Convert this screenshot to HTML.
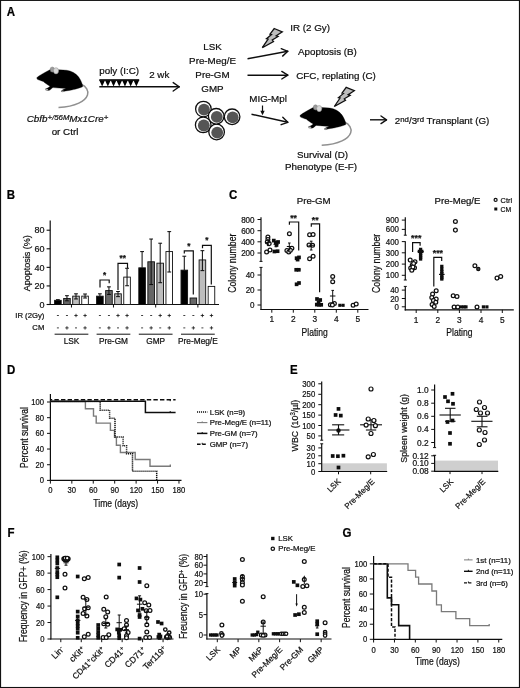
<!DOCTYPE html>
<html><head><meta charset="utf-8"><title>Figure</title>
<style>
html,body{margin:0;padding:0;background:#fff;}
body{width:520px;height:688px;overflow:hidden;}
svg{display:block;font-family:"Liberation Sans",sans-serif;}
</style></head><body>
<svg width="520" height="688" viewBox="0 0 520 688">
<defs><filter id="soft" x="0" y="0" width="520" height="688" filterUnits="userSpaceOnUse"><feGaussianBlur stdDeviation="0.3"/></filter></defs>
<rect x="0" y="0" width="520" height="688" fill="#fff"/>
<g filter="url(#soft)">
<rect x="0" y="0" width="520" height="688" fill="#fff"/>
<text transform="translate(6.80,16.20) scale(0.95,1)" font-size="12.1" text-anchor="start" font-weight="bold" font-style="normal" fill="#000" stroke="#000" stroke-width="0.22" >A</text>
<g transform="translate(0,0)">
<path d="M81.5,84.5 C86,86 89,91 87.5,95 C85.5,101 76,106.5 58.5,107.5" stroke="#909090" stroke-width="1.5" fill="none" />
<path d="M36.7,77.8 C39,75.5 44,73 49,70.2 C51,69 53,69 56,69.8 C60,70 66,69.6 70,71 C75,72.5 78.5,76 80.5,80 C82,83 83,86 82.6,86.8 C80,88 74,89.6 70.5,90.2 C69,90.6 66,90.8 64.5,91.2 C63,92 61,92 61.3,91 C62,90 64,89.3 66,88.6 C62,88.4 57,88 53,87.6 C52,88 51,89.5 49.5,90.3 C47.5,90.8 45,90 45.3,89 C46.5,88.4 48.5,88 50,86.2 C47,84.5 45,83 43.3,81.5 C41,80.8 38.5,80 37.3,79.3 Z" stroke="#000" stroke-width="0.3" fill="#000" />
<ellipse cx="52.3" cy="69.6" rx="2.2" ry="2.6" fill="#9a9a9a" stroke="#666" stroke-width="0.4"/>
<ellipse cx="56" cy="70.8" rx="2.6" ry="3.1" fill="#d8d8d8" stroke="#888" stroke-width="0.5"/>
<ellipse cx="46.6" cy="89.6" rx="1.6" ry="0.9" fill="#aaa"/>
<ellipse cx="62.6" cy="91.3" rx="1.6" ry="0.8" fill="#999"/>
</g>
<text transform="translate(67.50,122.30)" font-size="9.8" text-anchor="middle" font-weight="normal" font-style="italic" fill="#111" stroke="#111" stroke-width="0.22" >Cbfb<tspan font-size="7.8" dy="-2.2">+/56M</tspan><tspan dy="2.2">Mx1Cre</tspan><tspan font-size="7.8" dy="-2.2">+</tspan></text>
<text transform="translate(65.00,134.50)" font-size="9.8" text-anchor="middle" font-weight="normal" font-style="normal" fill="#111" stroke="#111" stroke-width="0.22" >or Ctrl</text>
<text transform="translate(99.30,74.30)" font-size="9.8" text-anchor="start" font-weight="normal" font-style="normal" fill="#111" stroke="#111" stroke-width="0.22" >poly (I:C)</text>
<rect x="99.30" y="79.20" width="39.90" height="1.60" fill="#000" stroke="none" stroke-width="0"/>
<polygon points="99.30,80.2 105.00,80.2 102.15,86.6" fill="#000"/>
<polygon points="105.00,80.2 110.70,80.2 107.85,86.6" fill="#000"/>
<polygon points="110.70,80.2 116.40,80.2 113.55,86.6" fill="#000"/>
<polygon points="116.40,80.2 122.10,80.2 119.25,86.6" fill="#000"/>
<polygon points="122.10,80.2 127.80,80.2 124.95,86.6" fill="#000"/>
<polygon points="127.80,80.2 133.50,80.2 130.65,86.6" fill="#000"/>
<polygon points="133.50,80.2 139.20,80.2 136.35,86.6" fill="#000"/>
<line x1="99.30" y1="86.80" x2="179.20" y2="86.80" stroke="#111" stroke-width="1.4" />
<line x1="179.20" y1="86.80" x2="173.20" y2="82.60" stroke="#111" stroke-width="1.4" stroke-linecap="round"/>
<line x1="179.20" y1="86.80" x2="173.20" y2="91.00" stroke="#111" stroke-width="1.4" stroke-linecap="round"/>
<text transform="translate(149.20,78.20)" font-size="9.8" text-anchor="start" font-weight="normal" font-style="normal" fill="#111" stroke="#111" stroke-width="0.22" >2 wk</text>
<text transform="translate(212.50,50.40)" font-size="9.8" text-anchor="middle" font-weight="normal" font-style="normal" fill="#111" stroke="#111" stroke-width="0.22" >LSK</text>
<text transform="translate(212.50,64.30)" font-size="9.8" text-anchor="middle" font-weight="normal" font-style="normal" fill="#111" stroke="#111" stroke-width="0.22" >Pre-Meg/E</text>
<text transform="translate(212.50,78.20)" font-size="9.8" text-anchor="middle" font-weight="normal" font-style="normal" fill="#111" stroke="#111" stroke-width="0.22" >Pre-GM</text>
<text transform="translate(212.50,92.00)" font-size="9.8" text-anchor="middle" font-weight="normal" font-style="normal" fill="#111" stroke="#111" stroke-width="0.22" >GMP</text>
<circle cx="203.40" cy="109.10" r="7.8" fill="#fff" stroke="#111" stroke-width="1.3"/>
<circle cx="204.00" cy="109.70" r="5.9" fill="#555" stroke="none" stroke-width="0"/>
<circle cx="203.20" cy="124.90" r="7.8" fill="#fff" stroke="#111" stroke-width="1.3"/>
<circle cx="203.80" cy="125.50" r="5.9" fill="#555" stroke="none" stroke-width="0"/>
<circle cx="232.10" cy="116.80" r="7.8" fill="#fff" stroke="#111" stroke-width="1.3"/>
<circle cx="232.70" cy="117.40" r="5.9" fill="#555" stroke="none" stroke-width="0"/>
<circle cx="216.60" cy="132.00" r="7.8" fill="#fff" stroke="#111" stroke-width="1.3"/>
<circle cx="217.20" cy="132.60" r="5.9" fill="#555" stroke="none" stroke-width="0"/>
<circle cx="216.20" cy="116.30" r="7.8" fill="#fff" stroke="#111" stroke-width="1.3"/>
<circle cx="216.80" cy="116.90" r="5.9" fill="#555" stroke="none" stroke-width="0"/>
<line x1="247.50" y1="58.80" x2="287.80" y2="51.30" stroke="#111" stroke-width="1.4" />
<line x1="287.80" y1="51.30" x2="281.21" y2="48.66" stroke="#111" stroke-width="1.4" stroke-linecap="round"/>
<line x1="287.80" y1="51.30" x2="282.60" y2="56.13" stroke="#111" stroke-width="1.4" stroke-linecap="round"/>
<line x1="247.50" y1="75.20" x2="287.80" y2="75.20" stroke="#111" stroke-width="1.4" />
<line x1="287.80" y1="75.20" x2="281.80" y2="71.40" stroke="#111" stroke-width="1.4" stroke-linecap="round"/>
<line x1="287.80" y1="75.20" x2="281.80" y2="79.00" stroke="#111" stroke-width="1.4" stroke-linecap="round"/>
<text transform="translate(249.30,101.80)" font-size="9.8" text-anchor="start" font-weight="normal" font-style="normal" fill="#111" stroke="#111" stroke-width="0.22" >MIG-Mpl</text>
<line x1="262.50" y1="105.50" x2="262.50" y2="113.00" stroke="#111" stroke-width="1.2" />
<polygon points="260.3,110.8 264.7,110.8 262.5,115.3" fill="#111"/>
<line x1="251.50" y1="114.20" x2="287.80" y2="122.30" stroke="#111" stroke-width="1.4" />
<line x1="287.80" y1="122.30" x2="282.77" y2="117.28" stroke="#111" stroke-width="1.4" stroke-linecap="round"/>
<line x1="287.80" y1="122.30" x2="281.12" y2="124.70" stroke="#111" stroke-width="1.4" stroke-linecap="round"/>
<g transform="translate(0,0)">
<path d="M274.2,28.5 L282.3,31.9 L276.2,35.8 L278.1,36.5 L272.3,40 L273.5,41.5 L262.3,47.7 L268.1,39.2 L266.5,38.8 L271.5,34.6 L270,34.2 Z" stroke="#111" stroke-width="1.3" fill="#bdbdbd" stroke-linejoin="miter"/>
</g>
<text transform="translate(290.20,31.40)" font-size="9.8" text-anchor="start" font-weight="normal" font-style="normal" fill="#111" stroke="#111" stroke-width="0.22" >IR (2 Gy)</text>
<text transform="translate(298.00,55.30)" font-size="9.8" text-anchor="start" font-weight="normal" font-style="normal" fill="#111" stroke="#111" stroke-width="0.22" >Apoptosis (B)</text>
<text transform="translate(296.30,79.10)" font-size="9.8" text-anchor="start" font-weight="normal" font-style="normal" fill="#111" stroke="#111" stroke-width="0.22" >CFC, replating (C)</text>
<g transform="translate(72,58.8)">
<path d="M274.2,28.5 L282.3,31.9 L276.2,35.8 L278.1,36.5 L272.3,40 L273.5,41.5 L262.3,47.7 L268.1,39.2 L266.5,38.8 L271.5,34.6 L270,34.2 Z" stroke="#111" stroke-width="1.3" fill="#bdbdbd" stroke-linejoin="miter"/>
</g>
<g transform="translate(263.2,37.8)">
<path d="M81.5,84.5 C86,86 89,91 87.5,95 C85.5,101 76,106.5 58.5,107.5" stroke="#909090" stroke-width="1.5" fill="none" />
<path d="M36.7,77.8 C39,75.5 44,73 49,70.2 C51,69 53,69 56,69.8 C60,70 66,69.6 70,71 C75,72.5 78.5,76 80.5,80 C82,83 83,86 82.6,86.8 C80,88 74,89.6 70.5,90.2 C69,90.6 66,90.8 64.5,91.2 C63,92 61,92 61.3,91 C62,90 64,89.3 66,88.6 C62,88.4 57,88 53,87.6 C52,88 51,89.5 49.5,90.3 C47.5,90.8 45,90 45.3,89 C46.5,88.4 48.5,88 50,86.2 C47,84.5 45,83 43.3,81.5 C41,80.8 38.5,80 37.3,79.3 Z" stroke="#000" stroke-width="0.3" fill="#000" />
<ellipse cx="52.3" cy="69.6" rx="2.2" ry="2.6" fill="#9a9a9a" stroke="#666" stroke-width="0.4"/>
<ellipse cx="56" cy="70.8" rx="2.6" ry="3.1" fill="#d8d8d8" stroke="#888" stroke-width="0.5"/>
<ellipse cx="46.6" cy="89.6" rx="1.6" ry="0.9" fill="#aaa"/>
<ellipse cx="62.6" cy="91.3" rx="1.6" ry="0.8" fill="#999"/>
</g>
<line x1="370.00" y1="119.80" x2="386.50" y2="119.80" stroke="#111" stroke-width="1.4" />
<line x1="386.50" y1="119.80" x2="381.00" y2="116.00" stroke="#111" stroke-width="1.4" stroke-linecap="round"/>
<line x1="386.50" y1="119.80" x2="381.00" y2="123.60" stroke="#111" stroke-width="1.4" stroke-linecap="round"/>
<text transform="translate(394.80,124.00)" font-size="9.8" text-anchor="start" font-weight="normal" font-style="normal" fill="#111" stroke="#111" stroke-width="0.22" >2<tspan font-size="7.8" dy="-2">nd</tspan><tspan dy="2">/3</tspan><tspan font-size="7.8" dy="-2">rd</tspan><tspan dy="2"> Transplant (G)</tspan></text>
<text transform="translate(322.50,157.60)" font-size="9.8" text-anchor="middle" font-weight="normal" font-style="normal" fill="#111" stroke="#111" stroke-width="0.22" >Survival (D)</text>
<text transform="translate(321.00,170.20)" font-size="9.8" text-anchor="middle" font-weight="normal" font-style="normal" fill="#111" stroke="#111" stroke-width="0.22" >Phenotype (E-F)</text>
<text transform="translate(6.80,199.20) scale(0.95,1)" font-size="12.1" text-anchor="start" font-weight="bold" font-style="normal" fill="#000" stroke="#000" stroke-width="0.22" >B</text>
<line x1="50.20" y1="220.50" x2="50.20" y2="305.10" stroke="#111" stroke-width="1.2" />
<line x1="49.60" y1="304.50" x2="219.00" y2="304.50" stroke="#111" stroke-width="1.2" />
<line x1="46.60" y1="304.50" x2="50.20" y2="304.50" stroke="#111" stroke-width="1.1" />
<text transform="translate(44.60,307.70)" font-size="9" text-anchor="end" font-weight="normal" font-style="normal" fill="#111" stroke="#111" stroke-width="0.22" >0</text>
<line x1="46.60" y1="285.93" x2="50.20" y2="285.93" stroke="#111" stroke-width="1.1" />
<text transform="translate(44.60,289.13)" font-size="9" text-anchor="end" font-weight="normal" font-style="normal" fill="#111" stroke="#111" stroke-width="0.22" >20</text>
<line x1="46.60" y1="267.36" x2="50.20" y2="267.36" stroke="#111" stroke-width="1.1" />
<text transform="translate(44.60,270.56)" font-size="9" text-anchor="end" font-weight="normal" font-style="normal" fill="#111" stroke="#111" stroke-width="0.22" >40</text>
<line x1="46.60" y1="248.79" x2="50.20" y2="248.79" stroke="#111" stroke-width="1.1" />
<text transform="translate(44.60,251.99)" font-size="9" text-anchor="end" font-weight="normal" font-style="normal" fill="#111" stroke="#111" stroke-width="0.22" >60</text>
<line x1="46.60" y1="230.22" x2="50.20" y2="230.22" stroke="#111" stroke-width="1.1" />
<text transform="translate(44.60,233.42)" font-size="9" text-anchor="end" font-weight="normal" font-style="normal" fill="#111" stroke="#111" stroke-width="0.22" >80</text>
<text transform="translate(30.00,263.30) rotate(-90) scale(0.92,1)" font-size="9.8" text-anchor="middle" font-weight="normal" font-style="normal" fill="#111" stroke="#111" stroke-width="0.22" >Apoptosis (%)</text>
<rect x="54.60" y="300.32" width="6.60" height="4.18" fill="#000" stroke="#111" stroke-width="0.9"/>
<line x1="57.90" y1="300.32" x2="57.90" y2="299.67" stroke="#111" stroke-width="1.05" />
<line x1="56.00" y1="299.67" x2="59.80" y2="299.67" stroke="#111" stroke-width="1.05" />
<rect x="63.65" y="298.46" width="6.60" height="6.04" fill="#666" stroke="#111" stroke-width="0.9"/>
<line x1="66.95" y1="300.79" x2="66.95" y2="295.68" stroke="#111" stroke-width="1.05" />
<line x1="65.05" y1="295.68" x2="68.85" y2="295.68" stroke="#111" stroke-width="1.05" />
<line x1="65.05" y1="300.79" x2="68.85" y2="300.79" stroke="#111" stroke-width="1.05" />
<rect x="72.70" y="296.14" width="6.60" height="8.36" fill="#bdbdbd" stroke="#111" stroke-width="0.9"/>
<line x1="76.00" y1="298.93" x2="76.00" y2="293.82" stroke="#111" stroke-width="1.05" />
<line x1="74.10" y1="293.82" x2="77.90" y2="293.82" stroke="#111" stroke-width="1.05" />
<line x1="74.10" y1="298.93" x2="77.90" y2="298.93" stroke="#111" stroke-width="1.05" />
<rect x="81.75" y="296.14" width="6.60" height="8.36" fill="#fff" stroke="#111" stroke-width="0.9"/>
<line x1="85.05" y1="298.00" x2="85.05" y2="294.01" stroke="#111" stroke-width="1.05" />
<line x1="83.15" y1="294.01" x2="86.95" y2="294.01" stroke="#111" stroke-width="1.05" />
<line x1="83.15" y1="298.00" x2="86.95" y2="298.00" stroke="#111" stroke-width="1.05" />
<line x1="71.47" y1="304.50" x2="71.47" y2="307.50" stroke="#111" stroke-width="1.0" />
<rect x="96.60" y="296.14" width="6.60" height="8.36" fill="#000" stroke="#111" stroke-width="0.9"/>
<line x1="99.90" y1="296.14" x2="99.90" y2="293.82" stroke="#111" stroke-width="1.05" />
<line x1="98.00" y1="293.82" x2="101.80" y2="293.82" stroke="#111" stroke-width="1.05" />
<rect x="105.65" y="290.57" width="6.60" height="13.93" fill="#666" stroke="#111" stroke-width="0.9"/>
<line x1="108.95" y1="294.47" x2="108.95" y2="286.86" stroke="#111" stroke-width="1.05" />
<line x1="107.05" y1="286.86" x2="110.85" y2="286.86" stroke="#111" stroke-width="1.05" />
<line x1="107.05" y1="294.47" x2="110.85" y2="294.47" stroke="#111" stroke-width="1.05" />
<rect x="114.70" y="293.82" width="6.60" height="10.68" fill="#bdbdbd" stroke="#111" stroke-width="0.9"/>
<line x1="118.00" y1="296.61" x2="118.00" y2="291.50" stroke="#111" stroke-width="1.05" />
<line x1="116.10" y1="291.50" x2="119.90" y2="291.50" stroke="#111" stroke-width="1.05" />
<line x1="116.10" y1="296.61" x2="119.90" y2="296.61" stroke="#111" stroke-width="1.05" />
<rect x="123.75" y="277.11" width="6.60" height="27.39" fill="#fff" stroke="#111" stroke-width="0.9"/>
<line x1="127.05" y1="285.74" x2="127.05" y2="268.29" stroke="#111" stroke-width="1.05" />
<line x1="125.15" y1="268.29" x2="128.95" y2="268.29" stroke="#111" stroke-width="1.05" />
<line x1="125.15" y1="285.74" x2="128.95" y2="285.74" stroke="#111" stroke-width="1.05" />
<line x1="113.47" y1="304.50" x2="113.47" y2="307.50" stroke="#111" stroke-width="1.0" />
<rect x="138.80" y="267.82" width="6.60" height="36.68" fill="#000" stroke="#111" stroke-width="0.9"/>
<line x1="142.10" y1="267.82" x2="142.10" y2="251.58" stroke="#111" stroke-width="1.05" />
<line x1="140.20" y1="251.58" x2="144.00" y2="251.58" stroke="#111" stroke-width="1.05" />
<rect x="147.85" y="261.79" width="6.60" height="42.71" fill="#666" stroke="#111" stroke-width="0.9"/>
<line x1="151.15" y1="284.54" x2="151.15" y2="239.04" stroke="#111" stroke-width="1.05" />
<line x1="149.25" y1="239.04" x2="153.05" y2="239.04" stroke="#111" stroke-width="1.05" />
<line x1="149.25" y1="284.54" x2="153.05" y2="284.54" stroke="#111" stroke-width="1.05" />
<rect x="156.90" y="263.18" width="6.60" height="41.32" fill="#bdbdbd" stroke="#111" stroke-width="0.9"/>
<line x1="160.20" y1="282.68" x2="160.20" y2="243.22" stroke="#111" stroke-width="1.05" />
<line x1="158.30" y1="243.22" x2="162.10" y2="243.22" stroke="#111" stroke-width="1.05" />
<line x1="158.30" y1="282.68" x2="162.10" y2="282.68" stroke="#111" stroke-width="1.05" />
<rect x="165.95" y="251.58" width="6.60" height="52.92" fill="#fff" stroke="#111" stroke-width="0.9"/>
<line x1="169.25" y1="272.00" x2="169.25" y2="231.61" stroke="#111" stroke-width="1.05" />
<line x1="167.35" y1="231.61" x2="171.15" y2="231.61" stroke="#111" stroke-width="1.05" />
<line x1="167.35" y1="272.00" x2="171.15" y2="272.00" stroke="#111" stroke-width="1.05" />
<line x1="155.68" y1="304.50" x2="155.68" y2="307.50" stroke="#111" stroke-width="1.0" />
<rect x="181.00" y="270.15" width="6.60" height="34.35" fill="#000" stroke="#111" stroke-width="0.9"/>
<line x1="184.30" y1="270.15" x2="184.30" y2="256.22" stroke="#111" stroke-width="1.05" />
<line x1="182.40" y1="256.22" x2="186.20" y2="256.22" stroke="#111" stroke-width="1.05" />
<rect x="190.05" y="298.00" width="6.60" height="6.50" fill="#666" stroke="#111" stroke-width="0.9"/>
<rect x="199.10" y="259.93" width="6.60" height="44.57" fill="#bdbdbd" stroke="#111" stroke-width="0.9"/>
<line x1="202.40" y1="270.61" x2="202.40" y2="250.65" stroke="#111" stroke-width="1.05" />
<line x1="200.50" y1="250.65" x2="204.30" y2="250.65" stroke="#111" stroke-width="1.05" />
<line x1="200.50" y1="270.61" x2="204.30" y2="270.61" stroke="#111" stroke-width="1.05" />
<rect x="208.15" y="286.39" width="6.60" height="18.11" fill="#fff" stroke="#111" stroke-width="0.9"/>
<line x1="197.88" y1="304.50" x2="197.88" y2="307.50" stroke="#111" stroke-width="1.0" />
<path d="M100,287.5 L100,280 L109.2,280 L109.2,283.2" stroke="#111" stroke-width="1.2" fill="none" />
<text transform="translate(104.60,278.00)" font-size="8.2" text-anchor="middle" font-weight="bold" font-style="normal" fill="#111" stroke="#111" stroke-width="0.22" >*</text>
<path d="M118,290 L118,263.3 L127.5,263.3 L127.5,268" stroke="#111" stroke-width="1.2" fill="none" />
<text transform="translate(122.70,261.20)" font-size="8.2" text-anchor="middle" font-weight="bold" font-style="normal" fill="#111" stroke="#111" stroke-width="0.22" >**</text>
<path d="M184.3,253.5 L184.3,250.8 L193.3,250.8 L193.3,294.5" stroke="#111" stroke-width="1.2" fill="none" />
<text transform="translate(188.80,249.00)" font-size="8.2" text-anchor="middle" font-weight="bold" font-style="normal" fill="#111" stroke="#111" stroke-width="0.22" >*</text>
<path d="M202.5,248.3 L202.5,245.3 L211.3,245.3 L211.3,284.5" stroke="#111" stroke-width="1.2" fill="none" />
<text transform="translate(206.90,243.40)" font-size="8.2" text-anchor="middle" font-weight="bold" font-style="normal" fill="#111" stroke="#111" stroke-width="0.22" >*</text>
<text transform="translate(44.30,318.40)" font-size="7.7" text-anchor="end" font-weight="normal" font-style="normal" fill="#111" stroke="#111" stroke-width="0.22" >IR (2Gy)</text>
<text transform="translate(44.30,330.30)" font-size="7.7" text-anchor="end" font-weight="normal" font-style="normal" fill="#111" stroke="#111" stroke-width="0.22" >CM</text>
<line x1="56.90" y1="315.50" x2="58.90" y2="315.50" stroke="#111" stroke-width="0.8" />
<line x1="56.90" y1="327.90" x2="58.90" y2="327.90" stroke="#111" stroke-width="0.8" />
<line x1="65.95" y1="315.50" x2="67.95" y2="315.50" stroke="#111" stroke-width="0.8" />
<line x1="65.25" y1="327.90" x2="68.65" y2="327.90" stroke="#111" stroke-width="0.8" />
<line x1="66.95" y1="326.20" x2="66.95" y2="329.60" stroke="#111" stroke-width="0.8" />
<line x1="74.30" y1="315.50" x2="77.70" y2="315.50" stroke="#111" stroke-width="0.8" />
<line x1="76.00" y1="313.80" x2="76.00" y2="317.20" stroke="#111" stroke-width="0.8" />
<line x1="75.00" y1="327.90" x2="77.00" y2="327.90" stroke="#111" stroke-width="0.8" />
<line x1="83.35" y1="315.50" x2="86.75" y2="315.50" stroke="#111" stroke-width="0.8" />
<line x1="85.05" y1="313.80" x2="85.05" y2="317.20" stroke="#111" stroke-width="0.8" />
<line x1="83.35" y1="327.90" x2="86.75" y2="327.90" stroke="#111" stroke-width="0.8" />
<line x1="85.05" y1="326.20" x2="85.05" y2="329.60" stroke="#111" stroke-width="0.8" />
<line x1="54.60" y1="334.20" x2="88.35" y2="334.20" stroke="#111" stroke-width="1.0" />
<line x1="98.90" y1="315.50" x2="100.90" y2="315.50" stroke="#111" stroke-width="0.8" />
<line x1="98.90" y1="327.90" x2="100.90" y2="327.90" stroke="#111" stroke-width="0.8" />
<line x1="107.95" y1="315.50" x2="109.95" y2="315.50" stroke="#111" stroke-width="0.8" />
<line x1="107.25" y1="327.90" x2="110.65" y2="327.90" stroke="#111" stroke-width="0.8" />
<line x1="108.95" y1="326.20" x2="108.95" y2="329.60" stroke="#111" stroke-width="0.8" />
<line x1="116.30" y1="315.50" x2="119.70" y2="315.50" stroke="#111" stroke-width="0.8" />
<line x1="118.00" y1="313.80" x2="118.00" y2="317.20" stroke="#111" stroke-width="0.8" />
<line x1="117.00" y1="327.90" x2="119.00" y2="327.90" stroke="#111" stroke-width="0.8" />
<line x1="125.35" y1="315.50" x2="128.75" y2="315.50" stroke="#111" stroke-width="0.8" />
<line x1="127.05" y1="313.80" x2="127.05" y2="317.20" stroke="#111" stroke-width="0.8" />
<line x1="125.35" y1="327.90" x2="128.75" y2="327.90" stroke="#111" stroke-width="0.8" />
<line x1="127.05" y1="326.20" x2="127.05" y2="329.60" stroke="#111" stroke-width="0.8" />
<line x1="96.60" y1="334.20" x2="130.35" y2="334.20" stroke="#111" stroke-width="1.0" />
<line x1="141.10" y1="315.50" x2="143.10" y2="315.50" stroke="#111" stroke-width="0.8" />
<line x1="141.10" y1="327.90" x2="143.10" y2="327.90" stroke="#111" stroke-width="0.8" />
<line x1="150.15" y1="315.50" x2="152.15" y2="315.50" stroke="#111" stroke-width="0.8" />
<line x1="149.45" y1="327.90" x2="152.85" y2="327.90" stroke="#111" stroke-width="0.8" />
<line x1="151.15" y1="326.20" x2="151.15" y2="329.60" stroke="#111" stroke-width="0.8" />
<line x1="158.50" y1="315.50" x2="161.90" y2="315.50" stroke="#111" stroke-width="0.8" />
<line x1="160.20" y1="313.80" x2="160.20" y2="317.20" stroke="#111" stroke-width="0.8" />
<line x1="159.20" y1="327.90" x2="161.20" y2="327.90" stroke="#111" stroke-width="0.8" />
<line x1="167.55" y1="315.50" x2="170.95" y2="315.50" stroke="#111" stroke-width="0.8" />
<line x1="169.25" y1="313.80" x2="169.25" y2="317.20" stroke="#111" stroke-width="0.8" />
<line x1="167.55" y1="327.90" x2="170.95" y2="327.90" stroke="#111" stroke-width="0.8" />
<line x1="169.25" y1="326.20" x2="169.25" y2="329.60" stroke="#111" stroke-width="0.8" />
<line x1="138.80" y1="334.20" x2="172.55" y2="334.20" stroke="#111" stroke-width="1.0" />
<line x1="183.30" y1="315.50" x2="185.30" y2="315.50" stroke="#111" stroke-width="0.8" />
<line x1="183.30" y1="327.90" x2="185.30" y2="327.90" stroke="#111" stroke-width="0.8" />
<line x1="192.35" y1="315.50" x2="194.35" y2="315.50" stroke="#111" stroke-width="0.8" />
<line x1="191.65" y1="327.90" x2="195.05" y2="327.90" stroke="#111" stroke-width="0.8" />
<line x1="193.35" y1="326.20" x2="193.35" y2="329.60" stroke="#111" stroke-width="0.8" />
<line x1="200.70" y1="315.50" x2="204.10" y2="315.50" stroke="#111" stroke-width="0.8" />
<line x1="202.40" y1="313.80" x2="202.40" y2="317.20" stroke="#111" stroke-width="0.8" />
<line x1="201.40" y1="327.90" x2="203.40" y2="327.90" stroke="#111" stroke-width="0.8" />
<line x1="209.75" y1="315.50" x2="213.15" y2="315.50" stroke="#111" stroke-width="0.8" />
<line x1="211.45" y1="313.80" x2="211.45" y2="317.20" stroke="#111" stroke-width="0.8" />
<line x1="209.75" y1="327.90" x2="213.15" y2="327.90" stroke="#111" stroke-width="0.8" />
<line x1="211.45" y1="326.20" x2="211.45" y2="329.60" stroke="#111" stroke-width="0.8" />
<line x1="181.00" y1="334.20" x2="214.75" y2="334.20" stroke="#111" stroke-width="1.0" />
<text transform="translate(71.47,343.90)" font-size="8.3" text-anchor="middle" font-weight="normal" font-style="normal" fill="#111" stroke="#111" stroke-width="0.22" >LSK</text>
<text transform="translate(113.47,343.90)" font-size="8.3" text-anchor="middle" font-weight="normal" font-style="normal" fill="#111" stroke="#111" stroke-width="0.22" >Pre-GM</text>
<text transform="translate(155.68,343.90)" font-size="8.3" text-anchor="middle" font-weight="normal" font-style="normal" fill="#111" stroke="#111" stroke-width="0.22" >GMP</text>
<text transform="translate(197.88,343.90)" font-size="8.3" text-anchor="middle" font-weight="normal" font-style="normal" fill="#111" stroke="#111" stroke-width="0.22" >Pre-Meg/E</text>
<text transform="translate(229.00,199.30) scale(0.95,1)" font-size="12.1" text-anchor="start" font-weight="bold" font-style="normal" fill="#000" stroke="#000" stroke-width="0.22" >C</text>
<text transform="translate(313.70,203.60)" font-size="9.7" text-anchor="middle" font-weight="normal" font-style="normal" fill="#111" stroke="#111" stroke-width="0.22" >Pre-GM</text>
<line x1="261.00" y1="217.30" x2="261.00" y2="261.30" stroke="#111" stroke-width="1.2" />
<line x1="261.00" y1="267.50" x2="261.00" y2="310.10" stroke="#111" stroke-width="1.2" />
<line x1="259.50" y1="261.40" x2="262.50" y2="261.40" stroke="#111" stroke-width="1.0" />
<line x1="259.50" y1="267.40" x2="262.50" y2="267.40" stroke="#111" stroke-width="1.0" />
<line x1="260.40" y1="309.50" x2="368.50" y2="309.50" stroke="#111" stroke-width="1.2" />
<line x1="257.50" y1="219.50" x2="261.00" y2="219.50" stroke="#111" stroke-width="1.0" />
<text transform="translate(254.60,222.55) scale(0.94,1)" font-size="8.6" text-anchor="end" font-weight="normal" font-style="normal" fill="#111" stroke="#111" stroke-width="0.22" >800</text>
<line x1="257.50" y1="230.70" x2="261.00" y2="230.70" stroke="#111" stroke-width="1.0" />
<text transform="translate(254.60,233.75) scale(0.94,1)" font-size="8.6" text-anchor="end" font-weight="normal" font-style="normal" fill="#111" stroke="#111" stroke-width="0.22" >600</text>
<line x1="257.50" y1="241.80" x2="261.00" y2="241.80" stroke="#111" stroke-width="1.0" />
<text transform="translate(254.60,244.85) scale(0.94,1)" font-size="8.6" text-anchor="end" font-weight="normal" font-style="normal" fill="#111" stroke="#111" stroke-width="0.22" >400</text>
<line x1="257.50" y1="253.00" x2="261.00" y2="253.00" stroke="#111" stroke-width="1.0" />
<text transform="translate(254.60,256.05) scale(0.94,1)" font-size="8.6" text-anchor="end" font-weight="normal" font-style="normal" fill="#111" stroke="#111" stroke-width="0.22" >200</text>
<line x1="257.50" y1="275.00" x2="261.00" y2="275.00" stroke="#111" stroke-width="1.0" />
<text transform="translate(254.60,278.05) scale(0.94,1)" font-size="8.6" text-anchor="end" font-weight="normal" font-style="normal" fill="#111" stroke="#111" stroke-width="0.22" >40</text>
<line x1="257.50" y1="290.00" x2="261.00" y2="290.00" stroke="#111" stroke-width="1.0" />
<text transform="translate(254.60,293.05) scale(0.94,1)" font-size="8.6" text-anchor="end" font-weight="normal" font-style="normal" fill="#111" stroke="#111" stroke-width="0.22" >20</text>
<line x1="257.50" y1="305.00" x2="261.00" y2="305.00" stroke="#111" stroke-width="1.0" />
<text transform="translate(254.60,308.05) scale(0.94,1)" font-size="8.6" text-anchor="end" font-weight="normal" font-style="normal" fill="#111" stroke="#111" stroke-width="0.22" >0</text>
<text transform="translate(236.40,263.20) rotate(-90) scale(0.84,1)" font-size="10.4" text-anchor="middle" font-weight="normal" font-style="normal" fill="#111" stroke="#111" stroke-width="0.22" >Colony number</text>
<line x1="271.80" y1="309.50" x2="271.80" y2="312.70" stroke="#111" stroke-width="1.0" />
<text transform="translate(271.80,321.50) scale(0.95,1)" font-size="8.8" text-anchor="middle" font-weight="normal" font-style="normal" fill="#111" stroke="#111" stroke-width="0.22" >1</text>
<line x1="293.30" y1="309.50" x2="293.30" y2="312.70" stroke="#111" stroke-width="1.0" />
<text transform="translate(293.30,321.50) scale(0.95,1)" font-size="8.8" text-anchor="middle" font-weight="normal" font-style="normal" fill="#111" stroke="#111" stroke-width="0.22" >2</text>
<line x1="314.80" y1="309.50" x2="314.80" y2="312.70" stroke="#111" stroke-width="1.0" />
<text transform="translate(314.80,321.50) scale(0.95,1)" font-size="8.8" text-anchor="middle" font-weight="normal" font-style="normal" fill="#111" stroke="#111" stroke-width="0.22" >3</text>
<line x1="336.30" y1="309.50" x2="336.30" y2="312.70" stroke="#111" stroke-width="1.0" />
<text transform="translate(336.30,321.50) scale(0.95,1)" font-size="8.8" text-anchor="middle" font-weight="normal" font-style="normal" fill="#111" stroke="#111" stroke-width="0.22" >4</text>
<line x1="357.80" y1="309.50" x2="357.80" y2="312.70" stroke="#111" stroke-width="1.0" />
<text transform="translate(357.80,321.50) scale(0.95,1)" font-size="8.8" text-anchor="middle" font-weight="normal" font-style="normal" fill="#111" stroke="#111" stroke-width="0.22" >5</text>
<text transform="translate(314.60,335.60) scale(0.84,1)" font-size="10.2" text-anchor="middle" font-weight="normal" font-style="normal" fill="#111" stroke="#111" stroke-width="0.22" >Plating</text>
<circle cx="267.90" cy="236.90" r="1.9" fill="#fff" stroke="#111" stroke-width="1.25"/>
<circle cx="267.90" cy="239.60" r="1.9" fill="#fff" stroke="#111" stroke-width="1.25"/>
<circle cx="267.30" cy="242.00" r="1.9" fill="#fff" stroke="#111" stroke-width="1.25"/>
<circle cx="269.20" cy="243.60" r="1.9" fill="#fff" stroke="#111" stroke-width="1.25"/>
<circle cx="266.60" cy="251.90" r="1.9" fill="#fff" stroke="#111" stroke-width="1.25"/>
<circle cx="270.00" cy="250.00" r="1.9" fill="#fff" stroke="#111" stroke-width="1.25"/>
<line x1="265.70" y1="242.60" x2="270.70" y2="242.60" stroke="#111" stroke-width="1.0" />
<line x1="268.20" y1="239.80" x2="268.20" y2="245.60" stroke="#111" stroke-width="1.0" />
<line x1="266.90" y1="239.80" x2="269.50" y2="239.80" stroke="#111" stroke-width="1.0" />
<line x1="266.90" y1="245.60" x2="269.50" y2="245.60" stroke="#111" stroke-width="1.0" />
<rect x="271.95" y="238.75" width="3.7" height="3.7" fill="#111"/>
<rect x="273.95" y="240.75" width="3.7" height="3.7" fill="#111"/>
<rect x="276.25" y="240.15" width="3.7" height="3.7" fill="#111"/>
<rect x="274.65" y="243.15" width="3.7" height="3.7" fill="#111"/>
<rect x="272.55" y="249.65" width="3.7" height="3.7" fill="#111"/>
<rect x="275.75" y="249.35" width="3.7" height="3.7" fill="#111"/>
<line x1="273.50" y1="244.30" x2="278.50" y2="244.30" stroke="#111" stroke-width="1.0" />
<line x1="276.00" y1="242.00" x2="276.00" y2="246.80" stroke="#111" stroke-width="1.0" />
<line x1="274.70" y1="242.00" x2="277.30" y2="242.00" stroke="#111" stroke-width="1.0" />
<line x1="274.70" y1="246.80" x2="277.30" y2="246.80" stroke="#111" stroke-width="1.0" />
<circle cx="289.40" cy="233.80" r="1.9" fill="#fff" stroke="#111" stroke-width="1.25"/>
<circle cx="286.90" cy="250.60" r="1.9" fill="#fff" stroke="#111" stroke-width="1.25"/>
<circle cx="288.80" cy="252.00" r="1.9" fill="#fff" stroke="#111" stroke-width="1.25"/>
<circle cx="291.90" cy="248.20" r="1.9" fill="#fff" stroke="#111" stroke-width="1.25"/>
<circle cx="290.40" cy="250.20" r="1.9" fill="#fff" stroke="#111" stroke-width="1.25"/>
<line x1="286.80" y1="246.50" x2="291.80" y2="246.50" stroke="#111" stroke-width="1.0" />
<line x1="289.30" y1="243.00" x2="289.30" y2="250.00" stroke="#111" stroke-width="1.0" />
<line x1="288.00" y1="243.00" x2="290.60" y2="243.00" stroke="#111" stroke-width="1.0" />
<line x1="288.00" y1="250.00" x2="290.60" y2="250.00" stroke="#111" stroke-width="1.0" />
<rect x="294.75" y="256.35" width="3.7" height="3.7" fill="#111"/>
<rect x="297.15" y="255.55" width="3.7" height="3.7" fill="#111"/>
<rect x="295.75" y="257.75" width="3.7" height="3.7" fill="#111"/>
<rect x="294.35" y="267.95" width="3.7" height="3.7" fill="#111"/>
<rect x="296.95" y="267.95" width="3.7" height="3.7" fill="#111"/>
<rect x="294.75" y="282.45" width="3.7" height="3.7" fill="#111"/>
<rect x="297.15" y="281.15" width="3.7" height="3.7" fill="#111"/>
<line x1="295.00" y1="269.80" x2="300.50" y2="269.80" stroke="#111" stroke-width="0.9" />
<path d="M289.4,224.8 L289.4,222.0 L298.7,222.0 L298.7,250.6" stroke="#111" stroke-width="1.2" fill="none" />
<text transform="translate(293.60,221.00)" font-size="8.6" text-anchor="middle" font-weight="bold" font-style="normal" fill="#111" stroke="#111" stroke-width="0.22" >**</text>
<circle cx="309.60" cy="234.80" r="1.9" fill="#fff" stroke="#111" stroke-width="1.25"/>
<circle cx="313.10" cy="234.40" r="1.9" fill="#fff" stroke="#111" stroke-width="1.25"/>
<circle cx="309.00" cy="245.00" r="1.9" fill="#fff" stroke="#111" stroke-width="1.25"/>
<circle cx="312.60" cy="245.30" r="1.9" fill="#fff" stroke="#111" stroke-width="1.25"/>
<circle cx="309.60" cy="258.80" r="1.9" fill="#fff" stroke="#111" stroke-width="1.25"/>
<circle cx="313.10" cy="256.30" r="1.9" fill="#fff" stroke="#111" stroke-width="1.25"/>
<line x1="308.45" y1="245.30" x2="313.95" y2="245.30" stroke="#111" stroke-width="1.0" />
<line x1="311.20" y1="241.20" x2="311.20" y2="250.00" stroke="#111" stroke-width="1.0" />
<line x1="309.90" y1="241.20" x2="312.50" y2="241.20" stroke="#111" stroke-width="1.0" />
<line x1="309.90" y1="250.00" x2="312.50" y2="250.00" stroke="#111" stroke-width="1.0" />
<rect x="315.15" y="297.15" width="3.7" height="3.7" fill="#111"/>
<rect x="318.35" y="298.15" width="3.7" height="3.7" fill="#111"/>
<rect x="314.95" y="302.75" width="3.7" height="3.7" fill="#111"/>
<rect x="317.15" y="302.95" width="3.7" height="3.7" fill="#111"/>
<rect x="319.35" y="302.95" width="3.7" height="3.7" fill="#111"/>
<rect x="316.75" y="300.55" width="3.7" height="3.7" fill="#111"/>
<path d="M311.3,226.8 L311.3,223.8 L319.6,223.8 L319.6,292.2" stroke="#111" stroke-width="1.2" fill="none" />
<text transform="translate(315.20,222.80)" font-size="8.6" text-anchor="middle" font-weight="bold" font-style="normal" fill="#111" stroke="#111" stroke-width="0.22" >**</text>
<circle cx="332.70" cy="276.40" r="1.9" fill="#fff" stroke="#111" stroke-width="1.25"/>
<circle cx="332.70" cy="281.70" r="1.9" fill="#fff" stroke="#111" stroke-width="1.25"/>
<circle cx="330.40" cy="304.70" r="1.9" fill="#fff" stroke="#111" stroke-width="1.25"/>
<circle cx="334.40" cy="303.40" r="1.9" fill="#fff" stroke="#111" stroke-width="1.25"/>
<circle cx="332.40" cy="304.90" r="1.9" fill="#fff" stroke="#111" stroke-width="1.25"/>
<line x1="329.95" y1="296.00" x2="335.45" y2="296.00" stroke="#111" stroke-width="1.0" />
<line x1="332.70" y1="290.40" x2="332.70" y2="302.60" stroke="#111" stroke-width="1.0" />
<line x1="331.40" y1="290.40" x2="334.00" y2="290.40" stroke="#111" stroke-width="1.0" />
<line x1="331.40" y1="302.60" x2="334.00" y2="302.60" stroke="#111" stroke-width="1.0" />
<rect x="338.25" y="303.75" width="3.1" height="3.1" fill="#111"/>
<rect x="341.55" y="303.75" width="3.1" height="3.1" fill="#111"/>
<line x1="339.50" y1="305.30" x2="343.40" y2="305.30" stroke="#111" stroke-width="1.0" />
<circle cx="353.10" cy="305.20" r="1.9" fill="#fff" stroke="#111" stroke-width="1.25"/>
<circle cx="356.20" cy="304.00" r="1.9" fill="#fff" stroke="#111" stroke-width="1.25"/>
<text transform="translate(457.50,203.80)" font-size="9.6" text-anchor="middle" font-weight="normal" font-style="normal" fill="#111" stroke="#111" stroke-width="0.22" >Pre-Meg/E</text>
<circle cx="495.60" cy="199.90" r="1.5" fill="#fff" stroke="#111" stroke-width="1.25"/>
<text transform="translate(500.60,202.90) scale(0.95,1)" font-size="7.8" text-anchor="start" font-weight="normal" font-style="normal" fill="#111" stroke="#111" stroke-width="0.22" >Ctrl</text>
<rect x="494.30" y="207.50" width="3.0" height="3.0" fill="#111"/>
<text transform="translate(500.60,212.00) scale(0.88,1)" font-size="7.8" text-anchor="start" font-weight="normal" font-style="normal" fill="#111" stroke="#111" stroke-width="0.22" >CM</text>
<line x1="405.30" y1="217.20" x2="405.30" y2="235.20" stroke="#111" stroke-width="1.2" />
<line x1="405.30" y1="241.20" x2="405.30" y2="280.00" stroke="#111" stroke-width="1.2" />
<line x1="405.30" y1="286.40" x2="405.30" y2="310.40" stroke="#111" stroke-width="1.2" />
<line x1="403.80" y1="235.20" x2="406.80" y2="235.20" stroke="#111" stroke-width="1.0" />
<line x1="403.80" y1="280.00" x2="406.80" y2="280.00" stroke="#111" stroke-width="1.0" />
<line x1="403.80" y1="286.40" x2="406.80" y2="286.40" stroke="#111" stroke-width="1.0" />
<line x1="404.70" y1="309.80" x2="513.80" y2="309.80" stroke="#111" stroke-width="1.2" />
<line x1="401.80" y1="220.10" x2="405.30" y2="220.10" stroke="#111" stroke-width="1.0" />
<text transform="translate(399.00,223.15) scale(0.92,1)" font-size="8.6" text-anchor="end" font-weight="normal" font-style="normal" fill="#111" stroke="#111" stroke-width="0.22" >900</text>
<line x1="401.80" y1="229.40" x2="405.30" y2="229.40" stroke="#111" stroke-width="1.0" />
<text transform="translate(399.00,232.45) scale(0.92,1)" font-size="8.6" text-anchor="end" font-weight="normal" font-style="normal" fill="#111" stroke="#111" stroke-width="0.22" >600</text>
<line x1="401.80" y1="241.60" x2="405.30" y2="241.60" stroke="#111" stroke-width="1.0" />
<text transform="translate(399.00,244.65) scale(0.92,1)" font-size="8.6" text-anchor="end" font-weight="normal" font-style="normal" fill="#111" stroke="#111" stroke-width="0.22" >400</text>
<line x1="401.80" y1="252.80" x2="405.30" y2="252.80" stroke="#111" stroke-width="1.0" />
<text transform="translate(399.00,255.85) scale(0.92,1)" font-size="8.6" text-anchor="end" font-weight="normal" font-style="normal" fill="#111" stroke="#111" stroke-width="0.22" >300</text>
<line x1="401.80" y1="264.10" x2="405.30" y2="264.10" stroke="#111" stroke-width="1.0" />
<text transform="translate(399.00,267.15) scale(0.92,1)" font-size="8.6" text-anchor="end" font-weight="normal" font-style="normal" fill="#111" stroke="#111" stroke-width="0.22" >200</text>
<line x1="401.80" y1="275.30" x2="405.30" y2="275.30" stroke="#111" stroke-width="1.0" />
<text transform="translate(399.00,278.35) scale(0.92,1)" font-size="8.6" text-anchor="end" font-weight="normal" font-style="normal" fill="#111" stroke="#111" stroke-width="0.22" >100</text>
<line x1="401.80" y1="290.10" x2="405.30" y2="290.10" stroke="#111" stroke-width="1.0" />
<text transform="translate(399.00,293.15) scale(0.92,1)" font-size="8.6" text-anchor="end" font-weight="normal" font-style="normal" fill="#111" stroke="#111" stroke-width="0.22" >40</text>
<line x1="401.80" y1="298.50" x2="405.30" y2="298.50" stroke="#111" stroke-width="1.0" />
<text transform="translate(399.00,301.55) scale(0.92,1)" font-size="8.6" text-anchor="end" font-weight="normal" font-style="normal" fill="#111" stroke="#111" stroke-width="0.22" >20</text>
<line x1="401.80" y1="306.80" x2="405.30" y2="306.80" stroke="#111" stroke-width="1.0" />
<text transform="translate(399.00,309.85) scale(0.92,1)" font-size="8.6" text-anchor="end" font-weight="normal" font-style="normal" fill="#111" stroke="#111" stroke-width="0.22" >0</text>
<text transform="translate(380.00,263.40) rotate(-90) scale(0.84,1)" font-size="10.4" text-anchor="middle" font-weight="normal" font-style="normal" fill="#111" stroke="#111" stroke-width="0.22" >Colony number</text>
<line x1="416.20" y1="309.80" x2="416.20" y2="313.00" stroke="#111" stroke-width="1.0" />
<text transform="translate(416.20,323.00) scale(0.95,1)" font-size="8.8" text-anchor="middle" font-weight="normal" font-style="normal" fill="#111" stroke="#111" stroke-width="0.22" >1</text>
<line x1="437.80" y1="309.80" x2="437.80" y2="313.00" stroke="#111" stroke-width="1.0" />
<text transform="translate(437.80,323.00) scale(0.95,1)" font-size="8.8" text-anchor="middle" font-weight="normal" font-style="normal" fill="#111" stroke="#111" stroke-width="0.22" >2</text>
<line x1="459.40" y1="309.80" x2="459.40" y2="313.00" stroke="#111" stroke-width="1.0" />
<text transform="translate(459.40,323.00) scale(0.95,1)" font-size="8.8" text-anchor="middle" font-weight="normal" font-style="normal" fill="#111" stroke="#111" stroke-width="0.22" >3</text>
<line x1="481.00" y1="309.80" x2="481.00" y2="313.00" stroke="#111" stroke-width="1.0" />
<text transform="translate(481.00,323.00) scale(0.95,1)" font-size="8.8" text-anchor="middle" font-weight="normal" font-style="normal" fill="#111" stroke="#111" stroke-width="0.22" >4</text>
<line x1="502.30" y1="309.80" x2="502.30" y2="313.00" stroke="#111" stroke-width="1.0" />
<text transform="translate(502.30,323.00) scale(0.95,1)" font-size="8.8" text-anchor="middle" font-weight="normal" font-style="normal" fill="#111" stroke="#111" stroke-width="0.22" >5</text>
<text transform="translate(459.40,336.00) scale(0.84,1)" font-size="10.2" text-anchor="middle" font-weight="normal" font-style="normal" fill="#111" stroke="#111" stroke-width="0.22" >Plating</text>
<circle cx="410.20" cy="260.10" r="1.9" fill="#fff" stroke="#111" stroke-width="1.25"/>
<circle cx="415.00" cy="261.70" r="1.9" fill="#fff" stroke="#111" stroke-width="1.25"/>
<circle cx="412.30" cy="265.00" r="1.9" fill="#fff" stroke="#111" stroke-width="1.25"/>
<circle cx="410.70" cy="268.10" r="1.9" fill="#fff" stroke="#111" stroke-width="1.25"/>
<circle cx="414.50" cy="267.80" r="1.9" fill="#fff" stroke="#111" stroke-width="1.25"/>
<circle cx="411.80" cy="270.20" r="1.9" fill="#fff" stroke="#111" stroke-width="1.25"/>
<circle cx="413.60" cy="263.60" r="1.9" fill="#fff" stroke="#111" stroke-width="1.25"/>
<circle cx="412.90" cy="267.00" r="1.9" fill="#fff" stroke="#111" stroke-width="1.25"/>
<rect x="418.95" y="247.75" width="3.3" height="3.3" fill="#111"/>
<rect x="417.75" y="249.75" width="3.3" height="3.3" fill="#111"/>
<rect x="420.15" y="249.75" width="3.3" height="3.3" fill="#111"/>
<rect x="418.95" y="251.75" width="3.3" height="3.3" fill="#111"/>
<rect x="418.95" y="253.75" width="3.3" height="3.3" fill="#111"/>
<rect x="418.95" y="255.55" width="3.3" height="3.3" fill="#111"/>
<rect x="418.95" y="257.35" width="3.3" height="3.3" fill="#111"/>
<line x1="417.60" y1="251.60" x2="423.80" y2="251.60" stroke="#111" stroke-width="1.0" />
<path d="M412.6,252.1 L412.6,242.6 L420.1,242.6 L420.1,245.8" stroke="#111" stroke-width="1.2" fill="none" />
<text transform="translate(416.20,241.40)" font-size="8.8" text-anchor="middle" font-weight="bold" font-style="normal" fill="#111" stroke="#111" stroke-width="0.22" >***</text>
<circle cx="436.20" cy="290.80" r="1.9" fill="#fff" stroke="#111" stroke-width="1.25"/>
<circle cx="432.60" cy="294.00" r="1.9" fill="#fff" stroke="#111" stroke-width="1.25"/>
<circle cx="431.80" cy="297.40" r="1.9" fill="#fff" stroke="#111" stroke-width="1.25"/>
<circle cx="436.20" cy="299.00" r="1.9" fill="#fff" stroke="#111" stroke-width="1.25"/>
<circle cx="433.40" cy="300.60" r="1.9" fill="#fff" stroke="#111" stroke-width="1.25"/>
<circle cx="435.80" cy="302.20" r="1.9" fill="#fff" stroke="#111" stroke-width="1.25"/>
<circle cx="432.10" cy="304.40" r="1.9" fill="#fff" stroke="#111" stroke-width="1.25"/>
<circle cx="434.20" cy="306.50" r="1.9" fill="#fff" stroke="#111" stroke-width="1.25"/>
<rect x="440.15" y="264.75" width="3.3" height="3.3" fill="#111"/>
<rect x="440.15" y="267.55" width="3.3" height="3.3" fill="#111"/>
<rect x="440.15" y="269.95" width="3.3" height="3.3" fill="#111"/>
<rect x="440.15" y="271.95" width="3.3" height="3.3" fill="#111"/>
<rect x="440.15" y="273.95" width="3.3" height="3.3" fill="#111"/>
<rect x="440.15" y="275.95" width="3.3" height="3.3" fill="#111"/>
<rect x="440.15" y="277.35" width="3.3" height="3.3" fill="#111"/>
<line x1="439.00" y1="274.40" x2="444.60" y2="274.40" stroke="#111" stroke-width="1.2" />
<path d="M433.8,286.5 L433.8,257.4 L441.7,257.4 L441.7,260.9" stroke="#111" stroke-width="1.2" fill="none" />
<text transform="translate(437.90,256.00)" font-size="8.8" text-anchor="middle" font-weight="bold" font-style="normal" fill="#111" stroke="#111" stroke-width="0.22" >***</text>
<circle cx="455.40" cy="221.50" r="1.9" fill="#fff" stroke="#111" stroke-width="1.25"/>
<circle cx="455.40" cy="230.10" r="1.9" fill="#fff" stroke="#111" stroke-width="1.25"/>
<circle cx="453.20" cy="295.80" r="1.9" fill="#fff" stroke="#111" stroke-width="1.25"/>
<circle cx="457.00" cy="296.50" r="1.9" fill="#fff" stroke="#111" stroke-width="1.25"/>
<circle cx="454.10" cy="306.90" r="1.9" fill="#fff" stroke="#111" stroke-width="1.25"/>
<circle cx="457.80" cy="306.90" r="1.9" fill="#fff" stroke="#111" stroke-width="1.25"/>
<rect x="459.90" y="305.30" width="3.2" height="3.2" fill="#111"/>
<rect x="462.40" y="305.30" width="3.2" height="3.2" fill="#111"/>
<rect x="464.40" y="305.30" width="3.2" height="3.2" fill="#111"/>
<circle cx="474.90" cy="265.80" r="1.9" fill="#fff" stroke="#111" stroke-width="1.25"/>
<circle cx="478.30" cy="269.00" r="1.6" fill="#444" stroke="#111" stroke-width="1.25"/>
<circle cx="477.00" cy="306.90" r="1.9" fill="#fff" stroke="#111" stroke-width="1.25"/>
<rect x="481.80" y="305.30" width="3.2" height="3.2" fill="#111"/>
<rect x="485.30" y="305.30" width="3.2" height="3.2" fill="#111"/>
<circle cx="497.00" cy="278.10" r="1.9" fill="#fff" stroke="#111" stroke-width="1.25"/>
<circle cx="500.70" cy="276.50" r="1.9" fill="#fff" stroke="#111" stroke-width="1.25"/>
<text transform="translate(7.00,374.40) scale(0.95,1)" font-size="12.1" text-anchor="start" font-weight="bold" font-style="normal" fill="#000" stroke="#000" stroke-width="0.22" >D</text>
<line x1="50.40" y1="394.00" x2="50.40" y2="481.00" stroke="#111" stroke-width="1.2" />
<line x1="49.80" y1="480.40" x2="181.50" y2="480.40" stroke="#111" stroke-width="1.2" />
<line x1="47.00" y1="480.40" x2="50.40" y2="480.40" stroke="#111" stroke-width="1.0" />
<text transform="translate(43.90,483.40) scale(0.9,1)" font-size="8.5" text-anchor="end" font-weight="normal" font-style="normal" fill="#111" stroke="#111" stroke-width="0.22" >0</text>
<line x1="47.00" y1="464.72" x2="50.40" y2="464.72" stroke="#111" stroke-width="1.0" />
<text transform="translate(43.90,467.72) scale(0.9,1)" font-size="8.5" text-anchor="end" font-weight="normal" font-style="normal" fill="#111" stroke="#111" stroke-width="0.22" >20</text>
<line x1="47.00" y1="449.04" x2="50.40" y2="449.04" stroke="#111" stroke-width="1.0" />
<text transform="translate(43.90,452.04) scale(0.9,1)" font-size="8.5" text-anchor="end" font-weight="normal" font-style="normal" fill="#111" stroke="#111" stroke-width="0.22" >40</text>
<line x1="47.00" y1="433.36" x2="50.40" y2="433.36" stroke="#111" stroke-width="1.0" />
<text transform="translate(43.90,436.36) scale(0.9,1)" font-size="8.5" text-anchor="end" font-weight="normal" font-style="normal" fill="#111" stroke="#111" stroke-width="0.22" >60</text>
<line x1="47.00" y1="417.68" x2="50.40" y2="417.68" stroke="#111" stroke-width="1.0" />
<text transform="translate(43.90,420.68) scale(0.9,1)" font-size="8.5" text-anchor="end" font-weight="normal" font-style="normal" fill="#111" stroke="#111" stroke-width="0.22" >80</text>
<line x1="47.00" y1="402.00" x2="50.40" y2="402.00" stroke="#111" stroke-width="1.0" />
<text transform="translate(43.90,405.00) scale(0.9,1)" font-size="8.5" text-anchor="end" font-weight="normal" font-style="normal" fill="#111" stroke="#111" stroke-width="0.22" >100</text>
<line x1="50.40" y1="480.40" x2="50.40" y2="483.60" stroke="#111" stroke-width="1.0" />
<text transform="translate(50.40,493.40) scale(0.9,1)" font-size="8.5" text-anchor="middle" font-weight="normal" font-style="normal" fill="#111" stroke="#111" stroke-width="0.22" >0</text>
<line x1="71.83" y1="480.40" x2="71.83" y2="483.60" stroke="#111" stroke-width="1.0" />
<text transform="translate(71.83,493.40) scale(0.9,1)" font-size="8.5" text-anchor="middle" font-weight="normal" font-style="normal" fill="#111" stroke="#111" stroke-width="0.22" >30</text>
<line x1="93.26" y1="480.40" x2="93.26" y2="483.60" stroke="#111" stroke-width="1.0" />
<text transform="translate(93.26,493.40) scale(0.9,1)" font-size="8.5" text-anchor="middle" font-weight="normal" font-style="normal" fill="#111" stroke="#111" stroke-width="0.22" >60</text>
<line x1="114.69" y1="480.40" x2="114.69" y2="483.60" stroke="#111" stroke-width="1.0" />
<text transform="translate(114.69,493.40) scale(0.9,1)" font-size="8.5" text-anchor="middle" font-weight="normal" font-style="normal" fill="#111" stroke="#111" stroke-width="0.22" >90</text>
<line x1="136.12" y1="480.40" x2="136.12" y2="483.60" stroke="#111" stroke-width="1.0" />
<text transform="translate(136.12,493.40) scale(0.9,1)" font-size="8.5" text-anchor="middle" font-weight="normal" font-style="normal" fill="#111" stroke="#111" stroke-width="0.22" >120</text>
<line x1="157.55" y1="480.40" x2="157.55" y2="483.60" stroke="#111" stroke-width="1.0" />
<text transform="translate(157.55,493.40) scale(0.9,1)" font-size="8.5" text-anchor="middle" font-weight="normal" font-style="normal" fill="#111" stroke="#111" stroke-width="0.22" >150</text>
<line x1="178.97" y1="480.40" x2="178.97" y2="483.60" stroke="#111" stroke-width="1.0" />
<text transform="translate(178.97,493.40) scale(0.9,1)" font-size="8.5" text-anchor="middle" font-weight="normal" font-style="normal" fill="#111" stroke="#111" stroke-width="0.22" >180</text>
<text transform="translate(27.60,437.50) rotate(-90) scale(0.84,1)" font-size="10.2" text-anchor="middle" font-weight="normal" font-style="normal" fill="#111" stroke="#111" stroke-width="0.22" >Percent survival</text>
<text transform="translate(115.80,507.20) scale(0.84,1)" font-size="10.2" text-anchor="middle" font-weight="normal" font-style="normal" fill="#111" stroke="#111" stroke-width="0.22" >Time (days)</text>
<path d="M50.40,401.50 H85.40 V408.80 H93.50 V416.10 H96.20 V423.10 H110.40 V430.40 H114.50 V437.10 H116.40 V445.20 H120.40 V452.50 H135.20 V459.50 H150.00 V466.20 H170.3 V464.6" stroke="#7a7a7a" stroke-width="1.4" fill="none" stroke-linejoin="miter"/>
<path d="M50.40,401.40 H100.20 V410.20 H109.60 V418.30 H115.00 V437.10 H123.10 V445.70 H126.60 V453.80 H132.50 V471.30 H156.70 V480.20" stroke="#111" stroke-width="1.5" fill="none" stroke-dasharray="1.1 0.9"/>
<path d="M50.4,401.3 H145.4 V412.5 H175.6" stroke="#111" stroke-width="1.5" fill="none" />
<line x1="170.20" y1="411.00" x2="170.20" y2="412.50" stroke="#111" stroke-width="1.0" />
<path d="M50.4,399.8 H175.6" stroke="#111" stroke-width="1.5" fill="none" stroke-dasharray="4.4 2.2" stroke-dashoffset="2.6"/>
<line x1="170.20" y1="399.80" x2="170.20" y2="401.20" stroke="#111" stroke-width="1.0" />
<line x1="197.00" y1="412.10" x2="207.40" y2="412.10" stroke="#111" stroke-width="1.5" stroke-dasharray="1.1 0.9"/>
<text transform="translate(209.80,414.60)" font-size="7.8" text-anchor="start" font-weight="normal" font-style="normal" fill="#111" stroke="#111" stroke-width="0.22" >LSK (n=9)</text>
<line x1="197.00" y1="422.60" x2="207.40" y2="422.60" stroke="#7a7a7a" stroke-width="1.1" />
<line x1="202.20" y1="421.40" x2="202.20" y2="422.60" stroke="#7a7a7a" stroke-width="1.0" />
<text transform="translate(209.80,425.40)" font-size="7.8" text-anchor="start" font-weight="normal" font-style="normal" fill="#111" stroke="#111" stroke-width="0.22" >Pre-Meg/E (n=11)</text>
<line x1="197.00" y1="433.40" x2="207.40" y2="433.40" stroke="#111" stroke-width="1.5" />
<line x1="202.20" y1="432.00" x2="202.20" y2="433.40" stroke="#111" stroke-width="1.0" />
<text transform="translate(209.80,436.20)" font-size="7.8" text-anchor="start" font-weight="normal" font-style="normal" fill="#111" stroke="#111" stroke-width="0.22" >Pre-GM (n=7)</text>
<line x1="197.00" y1="444.20" x2="207.40" y2="444.20" stroke="#111" stroke-width="1.5" stroke-dasharray="3.6 1.6"/>
<line x1="202.20" y1="442.80" x2="202.20" y2="444.20" stroke="#111" stroke-width="1.0" />
<text transform="translate(209.80,447.00)" font-size="7.8" text-anchor="start" font-weight="normal" font-style="normal" fill="#111" stroke="#111" stroke-width="0.22" >GMP (n=7)</text>
<text transform="translate(290.00,374.40) scale(0.95,1)" font-size="12.1" text-anchor="start" font-weight="bold" font-style="normal" fill="#000" stroke="#000" stroke-width="0.22" >E</text>
<rect x="321.70" y="463.30" width="65.20" height="8.20" fill="#cfcfcf" stroke="none" stroke-width="0"/>
<line x1="321.70" y1="381.60" x2="321.70" y2="440.20" stroke="#111" stroke-width="1.2" />
<line x1="321.70" y1="443.80" x2="321.70" y2="472.10" stroke="#111" stroke-width="1.2" />
<line x1="320.20" y1="440.20" x2="323.20" y2="440.20" stroke="#111" stroke-width="1.0" />
<line x1="320.20" y1="443.80" x2="323.20" y2="443.80" stroke="#111" stroke-width="1.0" />
<line x1="321.10" y1="471.50" x2="387.20" y2="471.50" stroke="#111" stroke-width="1.2" />
<line x1="318.30" y1="383.80" x2="321.70" y2="383.80" stroke="#111" stroke-width="1.0" />
<text transform="translate(315.20,386.85) scale(0.9,1)" font-size="8.6" text-anchor="end" font-weight="normal" font-style="normal" fill="#111" stroke="#111" stroke-width="0.22" >300</text>
<line x1="318.30" y1="394.30" x2="321.70" y2="394.30" stroke="#111" stroke-width="1.0" />
<text transform="translate(315.20,397.35) scale(0.9,1)" font-size="8.6" text-anchor="end" font-weight="normal" font-style="normal" fill="#111" stroke="#111" stroke-width="0.22" >250</text>
<line x1="318.30" y1="404.70" x2="321.70" y2="404.70" stroke="#111" stroke-width="1.0" />
<text transform="translate(315.20,407.75) scale(0.9,1)" font-size="8.6" text-anchor="end" font-weight="normal" font-style="normal" fill="#111" stroke="#111" stroke-width="0.22" >200</text>
<line x1="318.30" y1="415.10" x2="321.70" y2="415.10" stroke="#111" stroke-width="1.0" />
<text transform="translate(315.20,418.15) scale(0.9,1)" font-size="8.6" text-anchor="end" font-weight="normal" font-style="normal" fill="#111" stroke="#111" stroke-width="0.22" >150</text>
<line x1="318.30" y1="425.50" x2="321.70" y2="425.50" stroke="#111" stroke-width="1.0" />
<text transform="translate(315.20,428.55) scale(0.9,1)" font-size="8.6" text-anchor="end" font-weight="normal" font-style="normal" fill="#111" stroke="#111" stroke-width="0.22" >100</text>
<line x1="318.30" y1="435.90" x2="321.70" y2="435.90" stroke="#111" stroke-width="1.0" />
<text transform="translate(315.20,438.95) scale(0.9,1)" font-size="8.6" text-anchor="end" font-weight="normal" font-style="normal" fill="#111" stroke="#111" stroke-width="0.22" >50</text>
<line x1="318.30" y1="447.90" x2="321.70" y2="447.90" stroke="#111" stroke-width="1.0" />
<text transform="translate(315.20,450.95) scale(0.9,1)" font-size="8.6" text-anchor="end" font-weight="normal" font-style="normal" fill="#111" stroke="#111" stroke-width="0.22" >30</text>
<line x1="318.30" y1="455.80" x2="321.70" y2="455.80" stroke="#111" stroke-width="1.0" />
<text transform="translate(315.20,458.85) scale(0.9,1)" font-size="8.6" text-anchor="end" font-weight="normal" font-style="normal" fill="#111" stroke="#111" stroke-width="0.22" >20</text>
<line x1="318.30" y1="463.70" x2="321.70" y2="463.70" stroke="#111" stroke-width="1.0" />
<text transform="translate(315.20,466.75) scale(0.9,1)" font-size="8.6" text-anchor="end" font-weight="normal" font-style="normal" fill="#111" stroke="#111" stroke-width="0.22" >10</text>
<line x1="318.30" y1="471.50" x2="321.70" y2="471.50" stroke="#111" stroke-width="1.0" />
<text transform="translate(315.20,474.55) scale(0.9,1)" font-size="8.6" text-anchor="end" font-weight="normal" font-style="normal" fill="#111" stroke="#111" stroke-width="0.22" >0</text>
<text transform="translate(298.20,425.60) rotate(-90) scale(0.92,1)" font-size="9.6" text-anchor="middle" font-weight="normal" font-style="normal" fill="#111" stroke="#111" stroke-width="0.22" >WBC (10<tspan font-size="6.5" dy="-3">3</tspan><tspan dy="3">/µl)</tspan></text>
<line x1="338.50" y1="471.50" x2="338.50" y2="474.30" stroke="#111" stroke-width="1.0" />
<line x1="370.70" y1="471.50" x2="370.70" y2="474.30" stroke="#111" stroke-width="1.0" />
<text transform="translate(341.20,482.00) rotate(-45)" font-size="8.05" text-anchor="end" font-weight="normal" font-style="normal" fill="#111" stroke="#111" stroke-width="0.22" >LSK</text>
<text transform="translate(375.00,482.20) rotate(-45)" font-size="8.05" text-anchor="end" font-weight="normal" font-style="normal" fill="#111" stroke="#111" stroke-width="0.22" >Pre-Meg/E</text>
<rect x="336.65" y="407.05" width="3.7" height="3.7" fill="#111"/>
<rect x="333.75" y="413.15" width="3.7" height="3.7" fill="#111"/>
<rect x="338.95" y="413.75" width="3.7" height="3.7" fill="#111"/>
<rect x="330.85" y="454.15" width="3.7" height="3.7" fill="#111"/>
<rect x="336.05" y="454.35" width="3.7" height="3.7" fill="#111"/>
<rect x="341.55" y="453.85" width="3.7" height="3.7" fill="#111"/>
<rect x="336.65" y="465.65" width="3.7" height="3.7" fill="#111"/>
<circle cx="338.50" cy="430.40" r="1.6" fill="#111" stroke="#111" stroke-width="1.25"/>
<line x1="327.80" y1="430.00" x2="349.40" y2="430.00" stroke="#111" stroke-width="1.1" />
<line x1="338.50" y1="424.80" x2="338.50" y2="434.90" stroke="#111" stroke-width="1.1" />
<line x1="332.10" y1="424.80" x2="344.20" y2="424.80" stroke="#111" stroke-width="1.1" />
<line x1="332.10" y1="434.90" x2="344.20" y2="434.90" stroke="#111" stroke-width="1.1" />
<line x1="360.10" y1="424.80" x2="382.00" y2="424.80" stroke="#111" stroke-width="1.1" />
<line x1="371.00" y1="419.90" x2="371.00" y2="430.00" stroke="#111" stroke-width="1.1" />
<line x1="365.90" y1="419.90" x2="376.20" y2="419.90" stroke="#111" stroke-width="1.1" />
<line x1="365.90" y1="430.00" x2="376.20" y2="430.00" stroke="#111" stroke-width="1.1" />
<circle cx="371.00" cy="389.00" r="2.0" fill="#fff" stroke="#111" stroke-width="1.2"/>
<circle cx="368.20" cy="419.00" r="2.0" fill="#fff" stroke="#111" stroke-width="1.2"/>
<circle cx="373.90" cy="420.50" r="2.0" fill="#fff" stroke="#111" stroke-width="1.2"/>
<circle cx="366.10" cy="425.10" r="2.0" fill="#fff" stroke="#111" stroke-width="1.2"/>
<circle cx="375.40" cy="425.70" r="2.0" fill="#fff" stroke="#111" stroke-width="1.2"/>
<circle cx="371.00" cy="433.50" r="2.0" fill="#fff" stroke="#111" stroke-width="1.2"/>
<circle cx="368.20" cy="456.80" r="2.0" fill="#fff" stroke="#111" stroke-width="1.2"/>
<circle cx="373.40" cy="454.50" r="2.0" fill="#fff" stroke="#111" stroke-width="1.2"/>
<rect x="434.60" y="460.60" width="63.40" height="10.70" fill="#cfcfcf" stroke="none" stroke-width="0"/>
<line x1="434.60" y1="384.40" x2="434.60" y2="447.60" stroke="#111" stroke-width="1.2" />
<line x1="434.60" y1="455.30" x2="434.60" y2="471.90" stroke="#111" stroke-width="1.2" />
<line x1="433.10" y1="447.60" x2="436.10" y2="447.60" stroke="#111" stroke-width="1.0" />
<line x1="433.10" y1="455.30" x2="436.10" y2="455.30" stroke="#111" stroke-width="1.0" />
<line x1="434.00" y1="471.30" x2="498.30" y2="471.30" stroke="#111" stroke-width="1.2" />
<line x1="431.20" y1="390.00" x2="434.60" y2="390.00" stroke="#111" stroke-width="1.0" />
<text transform="translate(428.70,393.05) scale(0.97,1)" font-size="8.6" text-anchor="end" font-weight="normal" font-style="normal" fill="#111" stroke="#111" stroke-width="0.22" >1.0</text>
<line x1="431.20" y1="403.20" x2="434.60" y2="403.20" stroke="#111" stroke-width="1.0" />
<text transform="translate(428.70,406.25) scale(0.97,1)" font-size="8.6" text-anchor="end" font-weight="normal" font-style="normal" fill="#111" stroke="#111" stroke-width="0.22" >0.8</text>
<line x1="431.20" y1="416.30" x2="434.60" y2="416.30" stroke="#111" stroke-width="1.0" />
<text transform="translate(428.70,419.35) scale(0.97,1)" font-size="8.6" text-anchor="end" font-weight="normal" font-style="normal" fill="#111" stroke="#111" stroke-width="0.22" >0.6</text>
<line x1="431.20" y1="429.40" x2="434.60" y2="429.40" stroke="#111" stroke-width="1.0" />
<text transform="translate(428.70,432.45) scale(0.97,1)" font-size="8.6" text-anchor="end" font-weight="normal" font-style="normal" fill="#111" stroke="#111" stroke-width="0.22" >0.4</text>
<line x1="431.20" y1="442.50" x2="434.60" y2="442.50" stroke="#111" stroke-width="1.0" />
<text transform="translate(428.70,445.55) scale(0.97,1)" font-size="8.6" text-anchor="end" font-weight="normal" font-style="normal" fill="#111" stroke="#111" stroke-width="0.22" >0.2</text>
<line x1="431.20" y1="455.80" x2="434.60" y2="455.80" stroke="#111" stroke-width="1.0" />
<text transform="translate(428.70,458.85) scale(0.97,1)" font-size="8.6" text-anchor="end" font-weight="normal" font-style="normal" fill="#111" stroke="#111" stroke-width="0.22" >0.12</text>
<line x1="431.20" y1="463.40" x2="434.60" y2="463.40" stroke="#111" stroke-width="1.0" />
<text transform="translate(428.70,466.45) scale(0.97,1)" font-size="8.6" text-anchor="end" font-weight="normal" font-style="normal" fill="#111" stroke="#111" stroke-width="0.22" >0.10</text>
<line x1="431.20" y1="471.20" x2="434.60" y2="471.20" stroke="#111" stroke-width="1.0" />
<text transform="translate(428.70,474.25) scale(0.97,1)" font-size="8.6" text-anchor="end" font-weight="normal" font-style="normal" fill="#111" stroke="#111" stroke-width="0.22" >0.08</text>
<text transform="translate(406.50,428.40) rotate(-90) scale(0.92,1)" font-size="9.6" text-anchor="middle" font-weight="normal" font-style="normal" fill="#111" stroke="#111" stroke-width="0.22" >Spleen weight (g)</text>
<line x1="450.00" y1="471.30" x2="450.00" y2="474.10" stroke="#111" stroke-width="1.0" />
<line x1="482.00" y1="471.30" x2="482.00" y2="474.10" stroke="#111" stroke-width="1.0" />
<text transform="translate(453.70,482.20) rotate(-45)" font-size="8.05" text-anchor="end" font-weight="normal" font-style="normal" fill="#111" stroke="#111" stroke-width="0.22" >LSK</text>
<text transform="translate(485.80,482.30) rotate(-45)" font-size="8.05" text-anchor="end" font-weight="normal" font-style="normal" fill="#111" stroke="#111" stroke-width="0.22" >Pre-Meg/E</text>
<rect x="443.15" y="395.15" width="3.7" height="3.7" fill="#111"/>
<rect x="450.65" y="391.95" width="3.7" height="3.7" fill="#111"/>
<rect x="446.15" y="399.45" width="3.7" height="3.7" fill="#111"/>
<rect x="451.15" y="401.95" width="3.7" height="3.7" fill="#111"/>
<rect x="445.65" y="420.15" width="3.7" height="3.7" fill="#111"/>
<rect x="450.65" y="418.65" width="3.7" height="3.7" fill="#111"/>
<rect x="448.15" y="431.15" width="3.7" height="3.7" fill="#111"/>
<rect x="448.15" y="441.95" width="3.7" height="3.7" fill="#111"/>
<line x1="439.50" y1="415.00" x2="460.80" y2="415.00" stroke="#111" stroke-width="1.1" />
<line x1="450.20" y1="408.30" x2="450.20" y2="421.30" stroke="#111" stroke-width="1.1" />
<line x1="445.00" y1="408.30" x2="455.50" y2="408.30" stroke="#111" stroke-width="1.1" />
<line x1="445.00" y1="421.30" x2="455.50" y2="421.30" stroke="#111" stroke-width="1.1" />
<line x1="471.30" y1="421.30" x2="492.50" y2="421.30" stroke="#111" stroke-width="1.1" />
<line x1="482.00" y1="416.30" x2="482.00" y2="426.80" stroke="#111" stroke-width="1.1" />
<line x1="476.80" y1="416.30" x2="487.50" y2="416.30" stroke="#111" stroke-width="1.1" />
<line x1="476.80" y1="426.80" x2="487.50" y2="426.80" stroke="#111" stroke-width="1.1" />
<circle cx="479.50" cy="402.00" r="2.0" fill="#fff" stroke="#111" stroke-width="1.2"/>
<circle cx="476.30" cy="409.50" r="2.0" fill="#fff" stroke="#111" stroke-width="1.2"/>
<circle cx="484.50" cy="407.50" r="2.0" fill="#fff" stroke="#111" stroke-width="1.2"/>
<circle cx="480.50" cy="413.00" r="2.0" fill="#fff" stroke="#111" stroke-width="1.2"/>
<circle cx="487.50" cy="413.00" r="2.0" fill="#fff" stroke="#111" stroke-width="1.2"/>
<circle cx="479.30" cy="430.00" r="2.0" fill="#fff" stroke="#111" stroke-width="1.2"/>
<circle cx="485.00" cy="432.50" r="2.0" fill="#fff" stroke="#111" stroke-width="1.2"/>
<circle cx="484.50" cy="440.00" r="2.0" fill="#fff" stroke="#111" stroke-width="1.2"/>
<circle cx="479.30" cy="444.50" r="2.0" fill="#fff" stroke="#111" stroke-width="1.2"/>
<text transform="translate(7.40,536.60) scale(0.95,1)" font-size="12.1" text-anchor="start" font-weight="bold" font-style="normal" fill="#000" stroke="#000" stroke-width="0.22" >F</text>
<line x1="50.90" y1="554.00" x2="50.90" y2="639.60" stroke="#111" stroke-width="1.2" />
<line x1="50.30" y1="639.00" x2="173.50" y2="639.00" stroke="#111" stroke-width="1.2" />
<line x1="47.50" y1="639.00" x2="50.90" y2="639.00" stroke="#111" stroke-width="1.0" />
<text transform="translate(44.60,642.00) scale(0.9,1)" font-size="8.5" text-anchor="end" font-weight="normal" font-style="normal" fill="#111" stroke="#111" stroke-width="0.22" >0</text>
<line x1="47.50" y1="622.53" x2="50.90" y2="622.53" stroke="#111" stroke-width="1.0" />
<text transform="translate(44.60,625.53) scale(0.9,1)" font-size="8.5" text-anchor="end" font-weight="normal" font-style="normal" fill="#111" stroke="#111" stroke-width="0.22" >20</text>
<line x1="47.50" y1="606.06" x2="50.90" y2="606.06" stroke="#111" stroke-width="1.0" />
<text transform="translate(44.60,609.06) scale(0.9,1)" font-size="8.5" text-anchor="end" font-weight="normal" font-style="normal" fill="#111" stroke="#111" stroke-width="0.22" >40</text>
<line x1="47.50" y1="589.59" x2="50.90" y2="589.59" stroke="#111" stroke-width="1.0" />
<text transform="translate(44.60,592.59) scale(0.9,1)" font-size="8.5" text-anchor="end" font-weight="normal" font-style="normal" fill="#111" stroke="#111" stroke-width="0.22" >60</text>
<line x1="47.50" y1="573.12" x2="50.90" y2="573.12" stroke="#111" stroke-width="1.0" />
<text transform="translate(44.60,576.12) scale(0.9,1)" font-size="8.5" text-anchor="end" font-weight="normal" font-style="normal" fill="#111" stroke="#111" stroke-width="0.22" >80</text>
<line x1="47.50" y1="556.65" x2="50.90" y2="556.65" stroke="#111" stroke-width="1.0" />
<text transform="translate(44.60,559.65) scale(0.9,1)" font-size="8.5" text-anchor="end" font-weight="normal" font-style="normal" fill="#111" stroke="#111" stroke-width="0.22" >100</text>
<text transform="translate(26.90,596.40) rotate(-90) scale(0.84,1)" font-size="10.4" text-anchor="middle" font-weight="normal" font-style="normal" fill="#111" stroke="#111" stroke-width="0.22" >Frequency in GFP+ (%)</text>
<line x1="60.80" y1="639.00" x2="60.80" y2="642.20" stroke="#111" stroke-width="1.0" />
<line x1="81.25" y1="639.00" x2="81.25" y2="642.20" stroke="#111" stroke-width="1.0" />
<line x1="101.70" y1="639.00" x2="101.70" y2="642.20" stroke="#111" stroke-width="1.0" />
<line x1="122.15" y1="639.00" x2="122.15" y2="642.20" stroke="#111" stroke-width="1.0" />
<line x1="142.60" y1="639.00" x2="142.60" y2="642.20" stroke="#111" stroke-width="1.0" />
<line x1="163.05" y1="639.00" x2="163.05" y2="642.20" stroke="#111" stroke-width="1.0" />
<text transform="translate(64.60,649.90) rotate(-45)" font-size="8.6" text-anchor="end" font-weight="normal" font-style="normal" fill="#111" stroke="#111" stroke-width="0.22" >Lin<tspan font-size="6" dy="-2.6">-</tspan></text>
<text transform="translate(85.45,649.90) rotate(-45)" font-size="8.6" text-anchor="end" font-weight="normal" font-style="normal" fill="#111" stroke="#111" stroke-width="0.22" >cKit<tspan font-size="6" dy="-2.6">+</tspan></text>
<text transform="translate(105.40,650.20) rotate(-45)" font-size="8.25" text-anchor="end" font-weight="normal" font-style="normal" fill="#111" stroke="#111" stroke-width="0.22" >CD41<tspan font-size="6" dy="-2.6">+</tspan><tspan dy="2.6">cKit</tspan><tspan font-size="6" dy="-2.6">+</tspan></text>
<text transform="translate(125.95,650.30) rotate(-45)" font-size="8.6" text-anchor="end" font-weight="normal" font-style="normal" fill="#111" stroke="#111" stroke-width="0.22" >CD41<tspan font-size="6" dy="-2.6">+</tspan></text>
<text transform="translate(146.30,650.30) rotate(-45)" font-size="8.6" text-anchor="end" font-weight="normal" font-style="normal" fill="#111" stroke="#111" stroke-width="0.22" >CD71<tspan font-size="6" dy="-2.6">+</tspan></text>
<text transform="translate(167.05,649.60) rotate(-45)" font-size="8.6" text-anchor="end" font-weight="normal" font-style="normal" fill="#111" stroke="#111" stroke-width="0.22" >Ter119<tspan font-size="6" dy="-2.6">+</tspan></text>
<rect x="55.45" y="555.45" width="3.7" height="3.7" fill="#111"/>
<rect x="55.45" y="558.55" width="3.7" height="3.7" fill="#111"/>
<rect x="55.45" y="561.65" width="3.7" height="3.7" fill="#111"/>
<rect x="55.45" y="566.15" width="3.7" height="3.7" fill="#111"/>
<rect x="55.45" y="570.15" width="3.7" height="3.7" fill="#111"/>
<rect x="55.45" y="572.55" width="3.7" height="3.7" fill="#111"/>
<rect x="55.45" y="575.35" width="3.7" height="3.7" fill="#111"/>
<rect x="55.45" y="595.45" width="3.7" height="3.7" fill="#111"/>
<line x1="54.80" y1="568.40" x2="60.20" y2="568.40" stroke="#111" stroke-width="1.0" />
<circle cx="63.80" cy="558.80" r="1.8" fill="#fff" stroke="#111" stroke-width="1.4"/>
<circle cx="66.00" cy="558.20" r="1.8" fill="#fff" stroke="#111" stroke-width="1.4"/>
<circle cx="68.20" cy="558.80" r="1.8" fill="#fff" stroke="#111" stroke-width="1.4"/>
<circle cx="64.80" cy="559.80" r="1.8" fill="#fff" stroke="#111" stroke-width="1.4"/>
<circle cx="67.20" cy="559.80" r="1.8" fill="#fff" stroke="#111" stroke-width="1.4"/>
<circle cx="66.00" cy="559.40" r="1.8" fill="#fff" stroke="#111" stroke-width="1.4"/>
<circle cx="65.00" cy="558.20" r="1.8" fill="#fff" stroke="#111" stroke-width="1.4"/>
<circle cx="67.20" cy="558.20" r="1.8" fill="#fff" stroke="#111" stroke-width="1.4"/>
<line x1="63.50" y1="562.80" x2="68.50" y2="562.80" stroke="#111" stroke-width="1.0" />
<line x1="66.00" y1="560.80" x2="66.00" y2="565.20" stroke="#111" stroke-width="1.0" />
<line x1="64.50" y1="560.80" x2="67.50" y2="560.80" stroke="#111" stroke-width="1.0" />
<line x1="64.50" y1="565.20" x2="67.50" y2="565.20" stroke="#111" stroke-width="1.0" />
<circle cx="65.00" cy="574.20" r="1.9" fill="#fff" stroke="#111" stroke-width="1.25"/>
<circle cx="65.00" cy="588.00" r="1.9" fill="#fff" stroke="#111" stroke-width="1.25"/>
<rect x="75.85" y="574.65" width="3.7" height="3.7" fill="#111"/>
<rect x="75.85" y="609.75" width="3.7" height="3.7" fill="#111"/>
<rect x="75.85" y="614.65" width="3.7" height="3.7" fill="#111"/>
<rect x="75.85" y="618.55" width="3.7" height="3.7" fill="#111"/>
<rect x="75.85" y="621.65" width="3.7" height="3.7" fill="#111"/>
<rect x="75.85" y="624.15" width="3.7" height="3.7" fill="#111"/>
<rect x="75.85" y="626.95" width="3.7" height="3.7" fill="#111"/>
<rect x="75.85" y="630.85" width="3.7" height="3.7" fill="#111"/>
<rect x="75.85" y="635.95" width="3.7" height="3.7" fill="#111"/>
<line x1="75.00" y1="620.40" x2="80.40" y2="620.40" stroke="#111" stroke-width="1.0" />
<line x1="77.70" y1="616.00" x2="77.70" y2="625.00" stroke="#111" stroke-width="1.0" />
<line x1="76.20" y1="616.00" x2="79.20" y2="616.00" stroke="#111" stroke-width="1.0" />
<line x1="76.20" y1="625.00" x2="79.20" y2="625.00" stroke="#111" stroke-width="1.0" />
<circle cx="84.30" cy="578.80" r="1.9" fill="#fff" stroke="#111" stroke-width="1.25"/>
<circle cx="88.20" cy="577.60" r="1.9" fill="#fff" stroke="#111" stroke-width="1.25"/>
<circle cx="83.10" cy="597.30" r="1.9" fill="#fff" stroke="#111" stroke-width="1.25"/>
<circle cx="86.90" cy="599.60" r="1.9" fill="#fff" stroke="#111" stroke-width="1.25"/>
<circle cx="88.20" cy="607.80" r="1.9" fill="#fff" stroke="#111" stroke-width="1.25"/>
<circle cx="84.60" cy="608.80" r="1.9" fill="#fff" stroke="#111" stroke-width="1.25"/>
<circle cx="83.10" cy="613.50" r="1.9" fill="#fff" stroke="#111" stroke-width="1.25"/>
<circle cx="86.90" cy="616.10" r="1.9" fill="#fff" stroke="#111" stroke-width="1.25"/>
<circle cx="88.20" cy="634.20" r="1.9" fill="#fff" stroke="#111" stroke-width="1.25"/>
<circle cx="84.30" cy="636.80" r="1.9" fill="#fff" stroke="#111" stroke-width="1.25"/>
<line x1="82.55" y1="607.30" x2="89.05" y2="607.30" stroke="#111" stroke-width="1.0" />
<line x1="85.80" y1="599.60" x2="85.80" y2="615.00" stroke="#111" stroke-width="1.0" />
<line x1="84.30" y1="599.60" x2="87.30" y2="599.60" stroke="#111" stroke-width="1.0" />
<line x1="84.30" y1="615.00" x2="87.30" y2="615.00" stroke="#111" stroke-width="1.0" />
<rect x="96.35" y="623.15" width="3.7" height="3.7" fill="#111"/>
<rect x="96.35" y="626.65" width="3.7" height="3.7" fill="#111"/>
<rect x="96.35" y="630.15" width="3.7" height="3.7" fill="#111"/>
<rect x="96.35" y="633.15" width="3.7" height="3.7" fill="#111"/>
<rect x="96.35" y="635.95" width="3.7" height="3.7" fill="#111"/>
<circle cx="106.20" cy="597.00" r="1.9" fill="#fff" stroke="#111" stroke-width="1.25"/>
<circle cx="103.80" cy="609.20" r="1.9" fill="#fff" stroke="#111" stroke-width="1.25"/>
<circle cx="107.70" cy="611.90" r="1.9" fill="#fff" stroke="#111" stroke-width="1.25"/>
<circle cx="105.80" cy="616.80" r="1.9" fill="#fff" stroke="#111" stroke-width="1.25"/>
<circle cx="103.80" cy="623.80" r="1.9" fill="#fff" stroke="#111" stroke-width="1.25"/>
<circle cx="107.70" cy="624.20" r="1.9" fill="#fff" stroke="#111" stroke-width="1.25"/>
<circle cx="108.80" cy="634.70" r="1.9" fill="#fff" stroke="#111" stroke-width="1.25"/>
<circle cx="103.10" cy="637.60" r="1.9" fill="#fff" stroke="#111" stroke-width="1.25"/>
<circle cx="106.20" cy="637.60" r="1.9" fill="#fff" stroke="#111" stroke-width="1.25"/>
<line x1="102.80" y1="623.50" x2="108.80" y2="623.50" stroke="#111" stroke-width="1.0" />
<line x1="105.80" y1="618.80" x2="105.80" y2="628.00" stroke="#111" stroke-width="1.0" />
<line x1="104.30" y1="618.80" x2="107.30" y2="618.80" stroke="#111" stroke-width="1.0" />
<line x1="104.30" y1="628.00" x2="107.30" y2="628.00" stroke="#111" stroke-width="1.0" />
<rect x="117.35" y="562.65" width="3.7" height="3.7" fill="#111"/>
<rect x="117.35" y="575.75" width="3.7" height="3.7" fill="#111"/>
<rect x="115.35" y="627.55" width="3.7" height="3.7" fill="#111"/>
<rect x="118.35" y="627.95" width="3.7" height="3.7" fill="#111"/>
<rect x="116.95" y="630.75" width="3.7" height="3.7" fill="#111"/>
<rect x="117.35" y="633.55" width="3.7" height="3.7" fill="#111"/>
<rect x="117.35" y="636.35" width="3.7" height="3.7" fill="#111"/>
<line x1="116.50" y1="622.70" x2="121.90" y2="622.70" stroke="#111" stroke-width="1.0" />
<line x1="119.20" y1="615.00" x2="119.20" y2="630.40" stroke="#111" stroke-width="1.0" />
<line x1="117.70" y1="615.00" x2="120.70" y2="615.00" stroke="#111" stroke-width="1.0" />
<line x1="117.70" y1="630.40" x2="120.70" y2="630.40" stroke="#111" stroke-width="1.0" />
<circle cx="126.50" cy="620.40" r="1.9" fill="#fff" stroke="#111" stroke-width="1.25"/>
<circle cx="126.50" cy="625.00" r="1.9" fill="#fff" stroke="#111" stroke-width="1.25"/>
<circle cx="124.20" cy="628.80" r="1.9" fill="#fff" stroke="#111" stroke-width="1.25"/>
<circle cx="128.10" cy="632.40" r="1.9" fill="#fff" stroke="#111" stroke-width="1.25"/>
<circle cx="126.50" cy="635.80" r="1.9" fill="#fff" stroke="#111" stroke-width="1.25"/>
<circle cx="126.50" cy="637.80" r="1.9" fill="#fff" stroke="#111" stroke-width="1.25"/>
<line x1="123.90" y1="629.60" x2="128.90" y2="629.60" stroke="#111" stroke-width="1.0" />
<line x1="126.40" y1="626.00" x2="126.40" y2="633.00" stroke="#111" stroke-width="1.0" />
<line x1="124.90" y1="626.00" x2="127.90" y2="626.00" stroke="#111" stroke-width="1.0" />
<line x1="124.90" y1="633.00" x2="127.90" y2="633.00" stroke="#111" stroke-width="1.0" />
<rect x="137.75" y="566.15" width="3.7" height="3.7" fill="#111"/>
<rect x="137.75" y="580.15" width="3.7" height="3.7" fill="#111"/>
<rect x="134.65" y="596.55" width="3.7" height="3.7" fill="#111"/>
<rect x="138.55" y="597.75" width="3.7" height="3.7" fill="#111"/>
<rect x="136.15" y="608.55" width="3.7" height="3.7" fill="#111"/>
<rect x="140.55" y="606.95" width="3.7" height="3.7" fill="#111"/>
<rect x="137.75" y="613.15" width="3.7" height="3.7" fill="#111"/>
<rect x="137.75" y="615.15" width="3.7" height="3.7" fill="#111"/>
<rect x="137.75" y="636.75" width="3.7" height="3.7" fill="#111"/>
<line x1="136.90" y1="604.20" x2="142.30" y2="604.20" stroke="#111" stroke-width="1.0" />
<line x1="139.60" y1="595.80" x2="139.60" y2="612.00" stroke="#111" stroke-width="1.0" />
<line x1="138.10" y1="595.80" x2="141.10" y2="595.80" stroke="#111" stroke-width="1.0" />
<line x1="138.10" y1="612.00" x2="141.10" y2="612.00" stroke="#111" stroke-width="1.0" />
<circle cx="146.80" cy="585.80" r="1.9" fill="#fff" stroke="#111" stroke-width="1.25"/>
<circle cx="144.70" cy="602.70" r="1.9" fill="#fff" stroke="#111" stroke-width="1.25"/>
<circle cx="148.80" cy="605.00" r="1.9" fill="#fff" stroke="#111" stroke-width="1.25"/>
<circle cx="146.20" cy="610.80" r="1.9" fill="#fff" stroke="#111" stroke-width="1.25"/>
<circle cx="150.00" cy="610.40" r="1.9" fill="#fff" stroke="#111" stroke-width="1.25"/>
<circle cx="146.80" cy="618.10" r="1.9" fill="#fff" stroke="#111" stroke-width="1.25"/>
<circle cx="146.80" cy="624.70" r="1.9" fill="#fff" stroke="#111" stroke-width="1.25"/>
<circle cx="146.80" cy="632.00" r="1.9" fill="#fff" stroke="#111" stroke-width="1.25"/>
<circle cx="145.80" cy="637.60" r="1.9" fill="#fff" stroke="#111" stroke-width="1.25"/>
<circle cx="149.60" cy="637.60" r="1.9" fill="#fff" stroke="#111" stroke-width="1.25"/>
<line x1="144.10" y1="617.30" x2="149.50" y2="617.30" stroke="#111" stroke-width="1.0" />
<line x1="146.80" y1="611.00" x2="146.80" y2="623.50" stroke="#111" stroke-width="1.0" />
<line x1="145.30" y1="611.00" x2="148.30" y2="611.00" stroke="#111" stroke-width="1.0" />
<line x1="145.30" y1="623.50" x2="148.30" y2="623.50" stroke="#111" stroke-width="1.0" />
<rect x="156.15" y="620.15" width="3.7" height="3.7" fill="#111"/>
<rect x="159.75" y="621.65" width="3.7" height="3.7" fill="#111"/>
<rect x="157.35" y="632.75" width="3.7" height="3.7" fill="#111"/>
<rect x="158.55" y="634.55" width="3.7" height="3.7" fill="#111"/>
<rect x="157.75" y="636.15" width="3.7" height="3.7" fill="#111"/>
<rect x="156.55" y="635.15" width="3.7" height="3.7" fill="#111"/>
<circle cx="165.30" cy="629.60" r="1.7" fill="#fff" stroke="#111" stroke-width="1.4"/>
<circle cx="169.20" cy="632.70" r="1.7" fill="#fff" stroke="#111" stroke-width="1.4"/>
<circle cx="166.20" cy="637.20" r="1.7" fill="#fff" stroke="#111" stroke-width="1.4"/>
<circle cx="168.00" cy="635.40" r="1.7" fill="#fff" stroke="#111" stroke-width="1.4"/>
<circle cx="169.80" cy="637.40" r="1.7" fill="#fff" stroke="#111" stroke-width="1.4"/>
<circle cx="167.40" cy="637.80" r="1.7" fill="#fff" stroke="#111" stroke-width="1.4"/>
<circle cx="168.60" cy="636.80" r="1.7" fill="#fff" stroke="#111" stroke-width="1.4"/>
<circle cx="167.00" cy="636.40" r="1.7" fill="#fff" stroke="#111" stroke-width="1.4"/>
<rect x="271.10" y="536.80" width="3.4" height="3.4" fill="#111"/>
<text transform="translate(278.20,541.20)" font-size="7.8" text-anchor="start" font-weight="normal" font-style="normal" fill="#111" stroke="#111" stroke-width="0.22" >LSK</text>
<circle cx="272.80" cy="548.70" r="1.7" fill="#fff" stroke="#111" stroke-width="1.25"/>
<text transform="translate(278.20,551.40)" font-size="7.8" text-anchor="start" font-weight="normal" font-style="normal" fill="#111" stroke="#111" stroke-width="0.22" >Pre-Meg/E</text>
<line x1="206.90" y1="554.00" x2="206.90" y2="586.60" stroke="#111" stroke-width="1.2" />
<line x1="206.90" y1="593.60" x2="206.90" y2="639.60" stroke="#111" stroke-width="1.2" />
<line x1="205.40" y1="586.60" x2="208.40" y2="586.60" stroke="#111" stroke-width="1.0" />
<line x1="205.40" y1="593.60" x2="208.40" y2="593.60" stroke="#111" stroke-width="1.0" />
<line x1="206.30" y1="639.00" x2="331.50" y2="639.00" stroke="#111" stroke-width="1.2" />
<line x1="203.50" y1="556.50" x2="206.90" y2="556.50" stroke="#111" stroke-width="1.0" />
<text transform="translate(203.00,559.50) scale(0.9,1)" font-size="8.5" text-anchor="end" font-weight="normal" font-style="normal" fill="#111" stroke="#111" stroke-width="0.22" >80</text>
<line x1="203.50" y1="565.20" x2="206.90" y2="565.20" stroke="#111" stroke-width="1.0" />
<text transform="translate(203.00,568.20) scale(0.9,1)" font-size="8.5" text-anchor="end" font-weight="normal" font-style="normal" fill="#111" stroke="#111" stroke-width="0.22" >60</text>
<line x1="203.50" y1="573.90" x2="206.90" y2="573.90" stroke="#111" stroke-width="1.0" />
<text transform="translate(203.00,576.90) scale(0.9,1)" font-size="8.5" text-anchor="end" font-weight="normal" font-style="normal" fill="#111" stroke="#111" stroke-width="0.22" >40</text>
<line x1="203.50" y1="582.50" x2="206.90" y2="582.50" stroke="#111" stroke-width="1.0" />
<text transform="translate(203.00,585.50) scale(0.9,1)" font-size="8.5" text-anchor="end" font-weight="normal" font-style="normal" fill="#111" stroke="#111" stroke-width="0.22" >20</text>
<line x1="203.50" y1="594.20" x2="206.90" y2="594.20" stroke="#111" stroke-width="1.0" />
<text transform="translate(203.00,597.20) scale(0.9,1)" font-size="8.5" text-anchor="end" font-weight="normal" font-style="normal" fill="#111" stroke="#111" stroke-width="0.22" >10</text>
<line x1="203.50" y1="614.60" x2="206.90" y2="614.60" stroke="#111" stroke-width="1.0" />
<text transform="translate(203.00,617.60) scale(0.9,1)" font-size="8.5" text-anchor="end" font-weight="normal" font-style="normal" fill="#111" stroke="#111" stroke-width="0.22" >5</text>
<line x1="203.50" y1="635.00" x2="206.90" y2="635.00" stroke="#111" stroke-width="1.0" />
<text transform="translate(203.00,638.00) scale(0.9,1)" font-size="8.5" text-anchor="end" font-weight="normal" font-style="normal" fill="#111" stroke="#111" stroke-width="0.22" >0</text>
<text transform="translate(186.60,596.40) rotate(-90) scale(0.84,1)" font-size="10.4" text-anchor="middle" font-weight="normal" font-style="normal" fill="#111" stroke="#111" stroke-width="0.22" >Freuency in GFP<tspan font-size="6.5" dy="-3">+</tspan><tspan dy="3"> (%)</tspan></text>
<line x1="217.30" y1="639.00" x2="217.30" y2="642.20" stroke="#111" stroke-width="1.0" />
<line x1="238.07" y1="639.00" x2="238.07" y2="642.20" stroke="#111" stroke-width="1.0" />
<line x1="258.84" y1="639.00" x2="258.84" y2="642.20" stroke="#111" stroke-width="1.0" />
<line x1="279.61" y1="639.00" x2="279.61" y2="642.20" stroke="#111" stroke-width="1.0" />
<line x1="300.38" y1="639.00" x2="300.38" y2="642.20" stroke="#111" stroke-width="1.0" />
<line x1="321.15" y1="639.00" x2="321.15" y2="642.20" stroke="#111" stroke-width="1.0" />
<text transform="translate(220.60,650.20) rotate(-45)" font-size="8.3" text-anchor="end" font-weight="normal" font-style="normal" fill="#111" stroke="#111" stroke-width="0.22" >LSK</text>
<text transform="translate(241.87,650.20) rotate(-45)" font-size="8.3" text-anchor="end" font-weight="normal" font-style="normal" fill="#111" stroke="#111" stroke-width="0.22" >MP</text>
<text transform="translate(263.64,650.20) rotate(-45)" font-size="8.3" text-anchor="end" font-weight="normal" font-style="normal" fill="#111" stroke="#111" stroke-width="0.22" >MkP</text>
<text transform="translate(283.01,650.20) rotate(-45)" font-size="8.3" text-anchor="end" font-weight="normal" font-style="normal" fill="#111" stroke="#111" stroke-width="0.22" >Pre-Meg/E</text>
<text transform="translate(303.68,650.20) rotate(-45)" font-size="8.3" text-anchor="end" font-weight="normal" font-style="normal" fill="#111" stroke="#111" stroke-width="0.22" >Pre-GM</text>
<text transform="translate(324.25,650.20) rotate(-45)" font-size="8.3" text-anchor="end" font-weight="normal" font-style="normal" fill="#111" stroke="#111" stroke-width="0.22" >GMP</text>
<rect x="208.95" y="633.35" width="3.3" height="3.3" fill="#111"/>
<rect x="211.15" y="633.35" width="3.3" height="3.3" fill="#111"/>
<rect x="213.35" y="633.35" width="3.3" height="3.3" fill="#111"/>
<rect x="215.35" y="633.35" width="3.3" height="3.3" fill="#111"/>
<circle cx="221.90" cy="625.00" r="1.9" fill="#fff" stroke="#111" stroke-width="1.25"/>
<circle cx="221.40" cy="633.40" r="1.7" fill="#fff" stroke="#111" stroke-width="1.3"/>
<circle cx="222.40" cy="634.80" r="1.7" fill="#fff" stroke="#111" stroke-width="1.3"/>
<circle cx="221.90" cy="635.60" r="1.7" fill="#fff" stroke="#111" stroke-width="1.3"/>
<rect x="232.85" y="577.15" width="3.7" height="3.7" fill="#111"/>
<rect x="232.85" y="580.65" width="3.7" height="3.7" fill="#111"/>
<rect x="232.85" y="583.75" width="3.7" height="3.7" fill="#111"/>
<line x1="232.20" y1="582.50" x2="237.20" y2="582.50" stroke="#111" stroke-width="1.0" />
<circle cx="242.40" cy="559.60" r="1.9" fill="#fff" stroke="#111" stroke-width="1.25"/>
<circle cx="242.40" cy="576.50" r="1.9" fill="#fff" stroke="#111" stroke-width="1.25"/>
<circle cx="242.40" cy="579.60" r="1.9" fill="#fff" stroke="#111" stroke-width="1.25"/>
<circle cx="242.40" cy="582.70" r="1.9" fill="#fff" stroke="#111" stroke-width="1.25"/>
<circle cx="242.40" cy="585.00" r="1.9" fill="#fff" stroke="#111" stroke-width="1.25"/>
<circle cx="242.40" cy="601.20" r="1.9" fill="#fff" stroke="#111" stroke-width="1.25"/>
<line x1="239.70" y1="578.20" x2="245.10" y2="578.20" stroke="#111" stroke-width="1.0" />
<line x1="242.40" y1="575.40" x2="242.40" y2="581.00" stroke="#111" stroke-width="1.0" />
<line x1="240.90" y1="575.40" x2="243.90" y2="575.40" stroke="#111" stroke-width="1.0" />
<line x1="240.90" y1="581.00" x2="243.90" y2="581.00" stroke="#111" stroke-width="1.0" />
<rect x="250.55" y="633.35" width="3.3" height="3.3" fill="#111"/>
<rect x="252.75" y="633.35" width="3.3" height="3.3" fill="#111"/>
<rect x="254.75" y="632.95" width="3.3" height="3.3" fill="#111"/>
<rect x="256.15" y="630.55" width="3.3" height="3.3" fill="#111"/>
<circle cx="263.20" cy="596.80" r="1.9" fill="#fff" stroke="#111" stroke-width="1.25"/>
<circle cx="263.20" cy="622.00" r="1.9" fill="#fff" stroke="#111" stroke-width="1.25"/>
<circle cx="261.20" cy="635.00" r="1.9" fill="#fff" stroke="#111" stroke-width="1.25"/>
<circle cx="265.00" cy="635.00" r="1.9" fill="#fff" stroke="#111" stroke-width="1.25"/>
<circle cx="263.20" cy="635.20" r="1.9" fill="#fff" stroke="#111" stroke-width="1.25"/>
<line x1="260.50" y1="626.20" x2="265.90" y2="626.20" stroke="#111" stroke-width="1.0" />
<line x1="263.20" y1="622.00" x2="263.20" y2="634.00" stroke="#111" stroke-width="1.0" />
<line x1="261.70" y1="622.00" x2="264.70" y2="622.00" stroke="#111" stroke-width="1.0" />
<line x1="261.70" y1="634.00" x2="264.70" y2="634.00" stroke="#111" stroke-width="1.0" />
<rect x="271.75" y="632.15" width="3.3" height="3.3" fill="#111"/>
<rect x="273.75" y="632.15" width="3.3" height="3.3" fill="#111"/>
<rect x="275.75" y="632.15" width="3.3" height="3.3" fill="#111"/>
<rect x="277.35" y="632.15" width="3.3" height="3.3" fill="#111"/>
<circle cx="281.20" cy="633.80" r="1.6" fill="#fff" stroke="#111" stroke-width="1.2"/>
<circle cx="283.00" cy="633.80" r="1.6" fill="#fff" stroke="#111" stroke-width="1.2"/>
<circle cx="284.80" cy="633.80" r="1.6" fill="#fff" stroke="#111" stroke-width="1.2"/>
<circle cx="286.20" cy="633.80" r="1.6" fill="#fff" stroke="#111" stroke-width="1.2"/>
<rect x="291.95" y="580.05" width="3.7" height="3.7" fill="#111"/>
<rect x="295.55" y="583.45" width="3.7" height="3.7" fill="#111"/>
<rect x="293.25" y="613.15" width="3.7" height="3.7" fill="#111"/>
<rect x="297.05" y="612.35" width="3.7" height="3.7" fill="#111"/>
<line x1="296.60" y1="594.20" x2="296.60" y2="605.40" stroke="#111" stroke-width="1.0" />
<polygon points="295.4,603.6 297.8,603.6 296.6,606.4" fill="#111"/>
<circle cx="304.30" cy="561.50" r="1.9" fill="#fff" stroke="#111" stroke-width="1.25"/>
<circle cx="304.30" cy="579.60" r="1.9" fill="#fff" stroke="#111" stroke-width="1.25"/>
<circle cx="302.80" cy="586.50" r="1.9" fill="#fff" stroke="#111" stroke-width="1.25"/>
<circle cx="306.90" cy="585.80" r="1.9" fill="#fff" stroke="#111" stroke-width="1.25"/>
<circle cx="304.30" cy="607.30" r="1.9" fill="#fff" stroke="#111" stroke-width="1.25"/>
<circle cx="304.30" cy="612.40" r="1.9" fill="#fff" stroke="#111" stroke-width="1.25"/>
<polygon points="302.8,578.4 305.8,578.4 304.3,575.2" fill="#111"/>
<line x1="304.30" y1="578.00" x2="304.30" y2="584.00" stroke="#111" stroke-width="1.0" />
<rect x="315.35" y="619.35" width="3.7" height="3.7" fill="#111"/>
<rect x="315.35" y="622.35" width="3.7" height="3.7" fill="#111"/>
<rect x="315.35" y="632.35" width="3.7" height="3.7" fill="#111"/>
<line x1="315.20" y1="625.80" x2="319.20" y2="625.80" stroke="#111" stroke-width="1.0" />
<line x1="317.20" y1="624.00" x2="317.20" y2="628.00" stroke="#111" stroke-width="1.0" />
<line x1="315.90" y1="624.00" x2="318.50" y2="624.00" stroke="#111" stroke-width="1.0" />
<line x1="315.90" y1="628.00" x2="318.50" y2="628.00" stroke="#111" stroke-width="1.0" />
<circle cx="325.10" cy="622.70" r="1.9" fill="#fff" stroke="#111" stroke-width="1.25"/>
<circle cx="325.10" cy="632.00" r="1.7" fill="#fff" stroke="#111" stroke-width="1.3"/>
<circle cx="325.10" cy="633.80" r="1.7" fill="#fff" stroke="#111" stroke-width="1.3"/>
<circle cx="325.10" cy="635.60" r="1.7" fill="#fff" stroke="#111" stroke-width="1.3"/>
<text transform="translate(342.40,536.60) scale(0.95,1)" font-size="12.1" text-anchor="start" font-weight="bold" font-style="normal" fill="#000" stroke="#000" stroke-width="0.22" >G</text>
<line x1="373.60" y1="556.00" x2="373.60" y2="639.90" stroke="#111" stroke-width="1.2" />
<line x1="373.00" y1="639.30" x2="502.30" y2="639.30" stroke="#111" stroke-width="1.2" />
<line x1="369.80" y1="639.30" x2="373.60" y2="639.30" stroke="#111" stroke-width="1.0" />
<text transform="translate(367.30,642.30) scale(0.9,1)" font-size="8.5" text-anchor="end" font-weight="normal" font-style="normal" fill="#111" stroke="#111" stroke-width="0.22" >0</text>
<line x1="369.80" y1="624.21" x2="373.60" y2="624.21" stroke="#111" stroke-width="1.0" />
<text transform="translate(367.30,627.21) scale(0.9,1)" font-size="8.5" text-anchor="end" font-weight="normal" font-style="normal" fill="#111" stroke="#111" stroke-width="0.22" >20</text>
<line x1="369.80" y1="609.12" x2="373.60" y2="609.12" stroke="#111" stroke-width="1.0" />
<text transform="translate(367.30,612.12) scale(0.9,1)" font-size="8.5" text-anchor="end" font-weight="normal" font-style="normal" fill="#111" stroke="#111" stroke-width="0.22" >40</text>
<line x1="369.80" y1="594.03" x2="373.60" y2="594.03" stroke="#111" stroke-width="1.0" />
<text transform="translate(367.30,597.03) scale(0.9,1)" font-size="8.5" text-anchor="end" font-weight="normal" font-style="normal" fill="#111" stroke="#111" stroke-width="0.22" >60</text>
<line x1="369.80" y1="578.94" x2="373.60" y2="578.94" stroke="#111" stroke-width="1.0" />
<text transform="translate(367.30,581.94) scale(0.9,1)" font-size="8.5" text-anchor="end" font-weight="normal" font-style="normal" fill="#111" stroke="#111" stroke-width="0.22" >80</text>
<line x1="369.80" y1="563.85" x2="373.60" y2="563.85" stroke="#111" stroke-width="1.0" />
<text transform="translate(367.30,566.85) scale(0.9,1)" font-size="8.5" text-anchor="end" font-weight="normal" font-style="normal" fill="#111" stroke="#111" stroke-width="0.22" >100</text>
<line x1="373.60" y1="639.30" x2="373.60" y2="642.50" stroke="#111" stroke-width="1.0" />
<text transform="translate(373.60,652.80) scale(0.9,1)" font-size="8.5" text-anchor="middle" font-weight="normal" font-style="normal" fill="#111" stroke="#111" stroke-width="0.22" >0</text>
<line x1="394.46" y1="639.30" x2="394.46" y2="642.50" stroke="#111" stroke-width="1.0" />
<text transform="translate(394.46,652.80) scale(0.9,1)" font-size="8.5" text-anchor="middle" font-weight="normal" font-style="normal" fill="#111" stroke="#111" stroke-width="0.22" >30</text>
<line x1="415.32" y1="639.30" x2="415.32" y2="642.50" stroke="#111" stroke-width="1.0" />
<text transform="translate(415.32,652.80) scale(0.9,1)" font-size="8.5" text-anchor="middle" font-weight="normal" font-style="normal" fill="#111" stroke="#111" stroke-width="0.22" >60</text>
<line x1="436.18" y1="639.30" x2="436.18" y2="642.50" stroke="#111" stroke-width="1.0" />
<text transform="translate(436.18,652.80) scale(0.9,1)" font-size="8.5" text-anchor="middle" font-weight="normal" font-style="normal" fill="#111" stroke="#111" stroke-width="0.22" >90</text>
<line x1="457.04" y1="639.30" x2="457.04" y2="642.50" stroke="#111" stroke-width="1.0" />
<text transform="translate(457.04,652.80) scale(0.9,1)" font-size="8.5" text-anchor="middle" font-weight="normal" font-style="normal" fill="#111" stroke="#111" stroke-width="0.22" >120</text>
<line x1="477.90" y1="639.30" x2="477.90" y2="642.50" stroke="#111" stroke-width="1.0" />
<text transform="translate(477.90,652.80) scale(0.9,1)" font-size="8.5" text-anchor="middle" font-weight="normal" font-style="normal" fill="#111" stroke="#111" stroke-width="0.22" >150</text>
<line x1="498.75" y1="639.30" x2="498.75" y2="642.50" stroke="#111" stroke-width="1.0" />
<text transform="translate(498.75,652.80) scale(0.9,1)" font-size="8.5" text-anchor="middle" font-weight="normal" font-style="normal" fill="#111" stroke="#111" stroke-width="0.22" >180</text>
<text transform="translate(349.80,597.60) rotate(-90) scale(0.84,1)" font-size="10.2" text-anchor="middle" font-weight="normal" font-style="normal" fill="#111" stroke="#111" stroke-width="0.22" >Percent survival</text>
<text transform="translate(437.40,665.30) scale(0.84,1)" font-size="10.2" text-anchor="middle" font-weight="normal" font-style="normal" fill="#111" stroke="#111" stroke-width="0.22" >Time (days)</text>
<path d="M373.6,563.85 H387.3 V597.9 H391.5 V604.7 H398.7 V625.6 H409.6 V639.3" stroke="#111" stroke-width="1.6" fill="none" />
<path d="M373.6,563.85 H408.0 V570.3 H415.6 V577.2 H418.6 V584.0 H431.9 V591.0 H436.5 V604.8 H441.4 V611.6 H455.9 V618.6 H469.7 V625.6 H489.2 V624.0" stroke="#7a7a7a" stroke-width="1.3" fill="none" />
<path d="M373.6,563.85 H388.0 V577.2 H391.5 V626.9 H395.0 V639.3" stroke="#111" stroke-width="1.5" fill="none" stroke-dasharray="3.2 1.6"/>
<line x1="464.00" y1="559.90" x2="472.60" y2="559.90" stroke="#7a7a7a" stroke-width="1.0" />
<line x1="468.40" y1="558.60" x2="468.40" y2="559.90" stroke="#7a7a7a" stroke-width="0.9" />
<text transform="translate(476.00,562.50)" font-size="7.8" text-anchor="start" font-weight="normal" font-style="normal" fill="#111" stroke="#111" stroke-width="0.22" >1st (n=11)</text>
<line x1="464.00" y1="571.30" x2="472.60" y2="571.30" stroke="#111" stroke-width="1.4" />
<line x1="468.40" y1="569.80" x2="468.40" y2="571.30" stroke="#111" stroke-width="1.0" />
<text transform="translate(476.00,574.00)" font-size="7.8" text-anchor="start" font-weight="normal" font-style="normal" fill="#111" stroke="#111" stroke-width="0.22" >2nd (n=11)</text>
<line x1="464.00" y1="582.90" x2="472.60" y2="582.90" stroke="#111" stroke-width="1.4" stroke-dasharray="3 1.4"/>
<line x1="468.40" y1="581.50" x2="468.40" y2="582.90" stroke="#111" stroke-width="1.0" />
<text transform="translate(476.00,585.50)" font-size="7.8" text-anchor="start" font-weight="normal" font-style="normal" fill="#111" stroke="#111" stroke-width="0.22" >3rd (n=6)</text>
</g>
<rect x="0.5" y="0.35" width="519" height="687.2" fill="none" stroke="#111" stroke-width="1.2"/>
</svg>
</body></html>
